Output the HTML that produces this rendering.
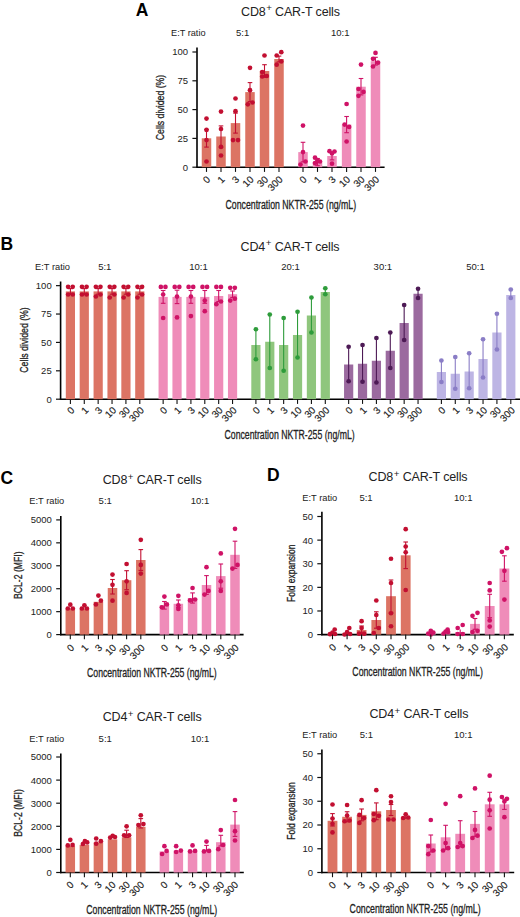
<!DOCTYPE html>
<html><head><meta charset="utf-8"><style>
html,body{margin:0;padding:0;background:#fff;}
svg{display:block;}
text{font-family:"Liberation Sans", sans-serif;fill:#222;}
text.cd{stroke:#222;stroke-width:0.3px;}
text.tl{stroke:#222;stroke-width:0.15px;}
</style></head><body>
<svg width="520" height="917" viewBox="0 0 520 917">
<rect width="520" height="917" fill="#fff"/>
<text x="135.8" y="15.9" font-size="17.5" font-weight="bold" style="fill:#000">A</text>
<text x="241.00" y="15.60" font-size="12.5" textLength="99" lengthAdjust="spacing">CD8<tspan font-size="9.75" dx="0.6" dy="-4.3">+</tspan><tspan dy="4.3"> CAR-T cells</tspan></text>
<text x="171.00" y="35.70" font-size="9.2" text-anchor="start" font-weight="normal" >E:T ratio</text>
<text x="236.00" y="35.60" font-size="9.5" text-anchor="start" font-weight="normal" >5:1</text>
<text x="331.00" y="35.60" font-size="9.5" text-anchor="start" font-weight="normal" >10:1</text>
<line x1="197" y1="47.5" x2="197" y2="167.95" stroke="#000" stroke-width="1.6"/>
<line x1="196.25" y1="167.2" x2="384.6" y2="167.2" stroke="#000" stroke-width="1.6"/>
<line x1="192.4" y1="167.2" x2="197" y2="167.2" stroke="#111" stroke-width="1.2"/>
<text x="188.10" y="170.65" font-size="9.5" text-anchor="end" font-weight="normal" >0</text>
<line x1="192.4" y1="138.39999999999998" x2="197" y2="138.39999999999998" stroke="#111" stroke-width="1.2"/>
<text x="188.10" y="141.85" font-size="9.5" text-anchor="end" font-weight="normal" >25</text>
<line x1="192.4" y1="109.6" x2="197" y2="109.6" stroke="#111" stroke-width="1.2"/>
<text x="188.10" y="113.05" font-size="9.5" text-anchor="end" font-weight="normal" >50</text>
<line x1="192.4" y1="80.8" x2="197" y2="80.8" stroke="#111" stroke-width="1.2"/>
<text x="188.10" y="84.25" font-size="9.5" text-anchor="end" font-weight="normal" >75</text>
<line x1="192.4" y1="52.0" x2="197" y2="52.0" stroke="#111" stroke-width="1.2"/>
<text x="188.10" y="55.45" font-size="9.5" text-anchor="end" font-weight="normal" >100</text>
<rect x="201.75" y="138.30" width="9.5" height="28.90" fill="#dc7464"/>
<rect x="216.25" y="136.50" width="9.5" height="30.70" fill="#dc7464"/>
<rect x="230.75" y="123.10" width="9.5" height="44.10" fill="#dc7464"/>
<rect x="245.25" y="92.10" width="9.5" height="75.10" fill="#dc7464"/>
<rect x="259.75" y="71.00" width="9.5" height="96.20" fill="#dc7464"/>
<rect x="274.25" y="59.00" width="9.5" height="108.20" fill="#dc7464"/>
<line x1="206.5" y1="129.5" x2="206.5" y2="147.10000000000002" stroke="#c20f31" stroke-width="1.1"/>
<line x1="204.2" y1="129.5" x2="208.8" y2="129.5" stroke="#c20f31" stroke-width="1.1"/>
<line x1="204.2" y1="147.10000000000002" x2="208.8" y2="147.10000000000002" stroke="#c20f31" stroke-width="1.1"/>
<circle cx="206.50" cy="118.60" r="2.35" fill="#c20f31"/>
<circle cx="206.50" cy="129.90" r="2.35" fill="#c20f31"/>
<circle cx="206.50" cy="140.10" r="2.35" fill="#c20f31"/>
<circle cx="206.50" cy="161.50" r="2.35" fill="#c20f31"/>
<line x1="221" y1="125.9" x2="221" y2="147.1" stroke="#c20f31" stroke-width="1.1"/>
<line x1="218.7" y1="125.9" x2="223.3" y2="125.9" stroke="#c20f31" stroke-width="1.1"/>
<line x1="218.7" y1="147.1" x2="223.3" y2="147.1" stroke="#c20f31" stroke-width="1.1"/>
<circle cx="221.00" cy="111.60" r="2.35" fill="#c20f31"/>
<circle cx="221.00" cy="129.00" r="2.35" fill="#c20f31"/>
<circle cx="221.00" cy="146.90" r="2.35" fill="#c20f31"/>
<circle cx="221.00" cy="155.50" r="2.35" fill="#c20f31"/>
<line x1="235.5" y1="113.1" x2="235.5" y2="133.1" stroke="#c20f31" stroke-width="1.1"/>
<line x1="233.2" y1="113.1" x2="237.8" y2="113.1" stroke="#c20f31" stroke-width="1.1"/>
<line x1="233.2" y1="133.1" x2="237.8" y2="133.1" stroke="#c20f31" stroke-width="1.1"/>
<circle cx="235.50" cy="98.50" r="2.35" fill="#c20f31"/>
<circle cx="235.50" cy="111.20" r="2.35" fill="#c20f31"/>
<circle cx="233.00" cy="140.10" r="2.35" fill="#c20f31"/>
<circle cx="238.00" cy="140.10" r="2.35" fill="#c20f31"/>
<line x1="250" y1="82.6" x2="250" y2="101.6" stroke="#c20f31" stroke-width="1.1"/>
<line x1="247.7" y1="82.6" x2="252.3" y2="82.6" stroke="#c20f31" stroke-width="1.1"/>
<line x1="247.7" y1="101.6" x2="252.3" y2="101.6" stroke="#c20f31" stroke-width="1.1"/>
<circle cx="250.00" cy="67.80" r="2.35" fill="#c20f31"/>
<circle cx="250.00" cy="90.20" r="2.35" fill="#c20f31"/>
<circle cx="247.80" cy="104.30" r="2.35" fill="#c20f31"/>
<circle cx="252.50" cy="102.50" r="2.35" fill="#c20f31"/>
<line x1="264.5" y1="64.7" x2="264.5" y2="77.3" stroke="#c20f31" stroke-width="1.1"/>
<line x1="262.2" y1="64.7" x2="266.8" y2="64.7" stroke="#c20f31" stroke-width="1.1"/>
<line x1="262.2" y1="77.3" x2="266.8" y2="77.3" stroke="#c20f31" stroke-width="1.1"/>
<circle cx="264.50" cy="55.50" r="2.35" fill="#c20f31"/>
<circle cx="262.20" cy="72.00" r="2.35" fill="#c20f31"/>
<circle cx="262.20" cy="76.50" r="2.35" fill="#c20f31"/>
<circle cx="266.80" cy="76.00" r="2.35" fill="#c20f31"/>
<line x1="279" y1="56.1" x2="279" y2="61.9" stroke="#c20f31" stroke-width="1.1"/>
<line x1="276.7" y1="56.1" x2="281.3" y2="56.1" stroke="#c20f31" stroke-width="1.1"/>
<line x1="276.7" y1="61.9" x2="281.3" y2="61.9" stroke="#c20f31" stroke-width="1.1"/>
<circle cx="276.70" cy="55.50" r="2.35" fill="#c20f31"/>
<circle cx="281.30" cy="52.20" r="2.35" fill="#c20f31"/>
<circle cx="276.70" cy="64.70" r="2.35" fill="#c20f31"/>
<circle cx="281.30" cy="61.40" r="2.35" fill="#c20f31"/>
<rect x="298.25" y="152.10" width="9.5" height="15.10" fill="#ef8cb9"/>
<rect x="312.75" y="162.10" width="9.5" height="5.10" fill="#ef8cb9"/>
<rect x="327.25" y="156.00" width="9.5" height="11.20" fill="#ef8cb9"/>
<rect x="341.85" y="124.60" width="9.5" height="42.60" fill="#ef8cb9"/>
<rect x="356.25" y="86.70" width="9.5" height="80.50" fill="#ef8cb9"/>
<rect x="370.75" y="61.20" width="9.5" height="106.00" fill="#ef8cb9"/>
<line x1="303" y1="142.3" x2="303" y2="161.89999999999998" stroke="#cf1266" stroke-width="1.1"/>
<line x1="300.7" y1="142.3" x2="305.3" y2="142.3" stroke="#cf1266" stroke-width="1.1"/>
<line x1="300.7" y1="161.89999999999998" x2="305.3" y2="161.89999999999998" stroke="#cf1266" stroke-width="1.1"/>
<circle cx="303.00" cy="125.60" r="2.35" fill="#cf1266"/>
<circle cx="303.00" cy="152.10" r="2.35" fill="#cf1266"/>
<circle cx="305.50" cy="161.50" r="2.35" fill="#cf1266"/>
<circle cx="300.50" cy="164.60" r="2.35" fill="#cf1266"/>
<line x1="317.5" y1="158.5" x2="317.5" y2="165.7" stroke="#cf1266" stroke-width="1.1"/>
<line x1="315.2" y1="158.5" x2="319.8" y2="158.5" stroke="#cf1266" stroke-width="1.1"/>
<line x1="315.2" y1="165.7" x2="319.8" y2="165.7" stroke="#cf1266" stroke-width="1.1"/>
<circle cx="315.00" cy="157.70" r="2.35" fill="#cf1266"/>
<circle cx="320.00" cy="161.50" r="2.35" fill="#cf1266"/>
<circle cx="315.00" cy="163.10" r="2.35" fill="#cf1266"/>
<circle cx="317.50" cy="160.20" r="2.35" fill="#cf1266"/>
<line x1="332" y1="152.1" x2="332" y2="159.9" stroke="#cf1266" stroke-width="1.1"/>
<line x1="329.7" y1="152.1" x2="334.3" y2="152.1" stroke="#cf1266" stroke-width="1.1"/>
<line x1="329.7" y1="159.9" x2="334.3" y2="159.9" stroke="#cf1266" stroke-width="1.1"/>
<circle cx="329.50" cy="151.20" r="2.35" fill="#cf1266"/>
<circle cx="334.50" cy="151.50" r="2.35" fill="#cf1266"/>
<circle cx="332.00" cy="153.50" r="2.35" fill="#cf1266"/>
<circle cx="332.00" cy="163.70" r="2.35" fill="#cf1266"/>
<line x1="346.6" y1="116.5" x2="346.6" y2="132.7" stroke="#cf1266" stroke-width="1.1"/>
<line x1="344.3" y1="116.5" x2="348.90000000000003" y2="116.5" stroke="#cf1266" stroke-width="1.1"/>
<line x1="344.3" y1="132.7" x2="348.90000000000003" y2="132.7" stroke="#cf1266" stroke-width="1.1"/>
<circle cx="346.60" cy="104.00" r="2.35" fill="#cf1266"/>
<circle cx="344.60" cy="124.60" r="2.35" fill="#cf1266"/>
<circle cx="349.10" cy="126.90" r="2.35" fill="#cf1266"/>
<circle cx="346.60" cy="141.50" r="2.35" fill="#cf1266"/>
<line x1="361" y1="78.5" x2="361" y2="94.9" stroke="#cf1266" stroke-width="1.1"/>
<line x1="358.7" y1="78.5" x2="363.3" y2="78.5" stroke="#cf1266" stroke-width="1.1"/>
<line x1="358.7" y1="94.9" x2="363.3" y2="94.9" stroke="#cf1266" stroke-width="1.1"/>
<circle cx="361.00" cy="64.60" r="2.35" fill="#cf1266"/>
<circle cx="358.50" cy="89.00" r="2.35" fill="#cf1266"/>
<circle cx="363.50" cy="91.90" r="2.35" fill="#cf1266"/>
<circle cx="358.50" cy="95.80" r="2.35" fill="#cf1266"/>
<line x1="375.5" y1="57.3" x2="375.5" y2="65.10000000000001" stroke="#cf1266" stroke-width="1.1"/>
<line x1="373.2" y1="57.3" x2="377.8" y2="57.3" stroke="#cf1266" stroke-width="1.1"/>
<line x1="373.2" y1="65.10000000000001" x2="377.8" y2="65.10000000000001" stroke="#cf1266" stroke-width="1.1"/>
<circle cx="375.50" cy="52.90" r="2.35" fill="#cf1266"/>
<circle cx="373.00" cy="58.80" r="2.35" fill="#cf1266"/>
<circle cx="378.00" cy="62.70" r="2.35" fill="#cf1266"/>
<circle cx="373.00" cy="66.50" r="2.35" fill="#cf1266"/>
<line x1="206.5" y1="167.2" x2="206.5" y2="171.89999999999998" stroke="#111" stroke-width="1.1"/>
<text class="tl" x="210.80" y="180.10" font-size="9.9" text-anchor="end" transform="rotate(-45 210.80 180.10)">0</text>
<line x1="221" y1="167.2" x2="221" y2="171.89999999999998" stroke="#111" stroke-width="1.1"/>
<text class="tl" x="225.30" y="180.10" font-size="9.9" text-anchor="end" transform="rotate(-45 225.30 180.10)">1</text>
<line x1="235.5" y1="167.2" x2="235.5" y2="171.89999999999998" stroke="#111" stroke-width="1.1"/>
<text class="tl" x="239.80" y="180.10" font-size="9.9" text-anchor="end" transform="rotate(-45 239.80 180.10)">3</text>
<line x1="250" y1="167.2" x2="250" y2="171.89999999999998" stroke="#111" stroke-width="1.1"/>
<text class="tl" x="254.30" y="180.10" font-size="9.9" text-anchor="end" transform="rotate(-45 254.30 180.10)">10</text>
<line x1="264.5" y1="167.2" x2="264.5" y2="171.89999999999998" stroke="#111" stroke-width="1.1"/>
<text class="tl" x="268.80" y="180.10" font-size="9.9" text-anchor="end" transform="rotate(-45 268.80 180.10)">30</text>
<line x1="279" y1="167.2" x2="279" y2="171.89999999999998" stroke="#111" stroke-width="1.1"/>
<text class="tl" x="283.30" y="180.10" font-size="9.9" text-anchor="end" transform="rotate(-45 283.30 180.10)">300</text>
<line x1="303" y1="167.2" x2="303" y2="171.89999999999998" stroke="#111" stroke-width="1.1"/>
<text class="tl" x="307.30" y="180.10" font-size="9.9" text-anchor="end" transform="rotate(-45 307.30 180.10)">0</text>
<line x1="317.5" y1="167.2" x2="317.5" y2="171.89999999999998" stroke="#111" stroke-width="1.1"/>
<text class="tl" x="321.80" y="180.10" font-size="9.9" text-anchor="end" transform="rotate(-45 321.80 180.10)">1</text>
<line x1="332" y1="167.2" x2="332" y2="171.89999999999998" stroke="#111" stroke-width="1.1"/>
<text class="tl" x="336.30" y="180.10" font-size="9.9" text-anchor="end" transform="rotate(-45 336.30 180.10)">3</text>
<line x1="346.6" y1="167.2" x2="346.6" y2="171.89999999999998" stroke="#111" stroke-width="1.1"/>
<text class="tl" x="350.90" y="180.10" font-size="9.9" text-anchor="end" transform="rotate(-45 350.90 180.10)">10</text>
<line x1="361" y1="167.2" x2="361" y2="171.89999999999998" stroke="#111" stroke-width="1.1"/>
<text class="tl" x="365.30" y="180.10" font-size="9.9" text-anchor="end" transform="rotate(-45 365.30 180.10)">30</text>
<line x1="375.5" y1="167.2" x2="375.5" y2="171.89999999999998" stroke="#111" stroke-width="1.1"/>
<text class="tl" x="379.80" y="180.10" font-size="9.9" text-anchor="end" transform="rotate(-45 379.80 180.10)">300</text>
<text class="cd" x="0" y="0" font-size="11.6" text-anchor="middle" textLength="65.4" lengthAdjust="spacingAndGlyphs" transform="translate(163.80 107.50) rotate(-90)">Cells divided (%)</text>
<text class="cd" x="290.80" y="208.60" font-size="12.5" text-anchor="middle" textLength="130.5" lengthAdjust="spacingAndGlyphs">Concentration NKTR-255 (ng/mL)</text>
<text x="0.6" y="249.9" font-size="17.5" font-weight="bold" style="fill:#000">B</text>
<text x="240.60" y="250.60" font-size="12.5" textLength="99" lengthAdjust="spacing">CD4<tspan font-size="9.75" dx="0.6" dy="-4.3">+</tspan><tspan dy="4.3"> CAR-T cells</tspan></text>
<text x="35.00" y="270.40" font-size="9.3" text-anchor="start" font-weight="normal" >E:T ratio</text>
<text x="98.20" y="270.40" font-size="9.5" text-anchor="start" font-weight="normal" >5:1</text>
<text x="189.20" y="270.40" font-size="9.5" text-anchor="start" font-weight="normal" >10:1</text>
<text x="281.20" y="270.40" font-size="9.5" text-anchor="start" font-weight="normal" >20:1</text>
<text x="373.60" y="270.40" font-size="9.5" text-anchor="start" font-weight="normal" >30:1</text>
<text x="466.20" y="270.40" font-size="9.5" text-anchor="start" font-weight="normal" >50:1</text>
<line x1="60.6" y1="281.5" x2="60.6" y2="399.95" stroke="#000" stroke-width="1.6"/>
<line x1="59.85" y1="399.2" x2="520.5" y2="399.2" stroke="#000" stroke-width="1.6"/>
<line x1="56.0" y1="399.2" x2="60.6" y2="399.2" stroke="#111" stroke-width="1.2"/>
<text x="51.70" y="402.65" font-size="9.5" text-anchor="end" font-weight="normal" >0</text>
<line x1="56.0" y1="370.8125" x2="60.6" y2="370.8125" stroke="#111" stroke-width="1.2"/>
<text x="51.70" y="374.26" font-size="9.5" text-anchor="end" font-weight="normal" >25</text>
<line x1="56.0" y1="342.425" x2="60.6" y2="342.425" stroke="#111" stroke-width="1.2"/>
<text x="51.70" y="345.88" font-size="9.5" text-anchor="end" font-weight="normal" >50</text>
<line x1="56.0" y1="314.0375" x2="60.6" y2="314.0375" stroke="#111" stroke-width="1.2"/>
<text x="51.70" y="317.49" font-size="9.5" text-anchor="end" font-weight="normal" >75</text>
<line x1="56.0" y1="285.65" x2="60.6" y2="285.65" stroke="#111" stroke-width="1.2"/>
<text x="51.70" y="289.10" font-size="9.5" text-anchor="end" font-weight="normal" >100</text>
<rect x="65.80" y="291.40" width="9.2" height="107.80" fill="#dc7464"/>
<rect x="79.68" y="291.40" width="9.2" height="107.80" fill="#dc7464"/>
<rect x="93.56" y="291.40" width="9.2" height="107.80" fill="#dc7464"/>
<rect x="107.44" y="291.40" width="9.2" height="107.80" fill="#dc7464"/>
<rect x="121.32" y="291.40" width="9.2" height="107.80" fill="#dc7464"/>
<rect x="135.20" y="291.40" width="9.2" height="107.80" fill="#dc7464"/>
<line x1="70.4" y1="288.6" x2="70.4" y2="294.19999999999993" stroke="#c20f31" stroke-width="1.1"/>
<line x1="68.10000000000001" y1="288.6" x2="72.7" y2="288.6" stroke="#c20f31" stroke-width="1.1"/>
<line x1="68.10000000000001" y1="294.19999999999993" x2="72.7" y2="294.19999999999993" stroke="#c20f31" stroke-width="1.1"/>
<circle cx="68.10" cy="286.80" r="2.35" fill="#c20f31"/>
<circle cx="72.70" cy="286.80" r="2.35" fill="#c20f31"/>
<circle cx="68.10" cy="294.50" r="2.35" fill="#c20f31"/>
<circle cx="72.70" cy="294.50" r="2.35" fill="#c20f31"/>
<line x1="84.28" y1="288.6" x2="84.28" y2="294.19999999999993" stroke="#c20f31" stroke-width="1.1"/>
<line x1="81.98" y1="288.6" x2="86.58" y2="288.6" stroke="#c20f31" stroke-width="1.1"/>
<line x1="81.98" y1="294.19999999999993" x2="86.58" y2="294.19999999999993" stroke="#c20f31" stroke-width="1.1"/>
<circle cx="81.98" cy="286.80" r="2.35" fill="#c20f31"/>
<circle cx="86.58" cy="286.80" r="2.35" fill="#c20f31"/>
<circle cx="81.98" cy="294.50" r="2.35" fill="#c20f31"/>
<circle cx="86.58" cy="294.50" r="2.35" fill="#c20f31"/>
<line x1="98.16000000000001" y1="288.6" x2="98.16000000000001" y2="294.19999999999993" stroke="#c20f31" stroke-width="1.1"/>
<line x1="95.86000000000001" y1="288.6" x2="100.46000000000001" y2="288.6" stroke="#c20f31" stroke-width="1.1"/>
<line x1="95.86000000000001" y1="294.19999999999993" x2="100.46000000000001" y2="294.19999999999993" stroke="#c20f31" stroke-width="1.1"/>
<circle cx="95.86" cy="286.80" r="2.35" fill="#c20f31"/>
<circle cx="100.46" cy="286.80" r="2.35" fill="#c20f31"/>
<circle cx="95.86" cy="296.50" r="2.35" fill="#c20f31"/>
<circle cx="100.46" cy="294.50" r="2.35" fill="#c20f31"/>
<line x1="112.04" y1="288.6" x2="112.04" y2="294.19999999999993" stroke="#c20f31" stroke-width="1.1"/>
<line x1="109.74000000000001" y1="288.6" x2="114.34" y2="288.6" stroke="#c20f31" stroke-width="1.1"/>
<line x1="109.74000000000001" y1="294.19999999999993" x2="114.34" y2="294.19999999999993" stroke="#c20f31" stroke-width="1.1"/>
<circle cx="109.74" cy="286.80" r="2.35" fill="#c20f31"/>
<circle cx="114.34" cy="286.80" r="2.35" fill="#c20f31"/>
<circle cx="109.74" cy="297.50" r="2.35" fill="#c20f31"/>
<circle cx="114.34" cy="294.50" r="2.35" fill="#c20f31"/>
<line x1="125.92000000000002" y1="288.6" x2="125.92000000000002" y2="294.19999999999993" stroke="#c20f31" stroke-width="1.1"/>
<line x1="123.62000000000002" y1="288.6" x2="128.22000000000003" y2="288.6" stroke="#c20f31" stroke-width="1.1"/>
<line x1="123.62000000000002" y1="294.19999999999993" x2="128.22000000000003" y2="294.19999999999993" stroke="#c20f31" stroke-width="1.1"/>
<circle cx="123.62" cy="286.80" r="2.35" fill="#c20f31"/>
<circle cx="128.22" cy="286.80" r="2.35" fill="#c20f31"/>
<circle cx="123.62" cy="297.50" r="2.35" fill="#c20f31"/>
<circle cx="128.22" cy="294.50" r="2.35" fill="#c20f31"/>
<line x1="139.8" y1="288.6" x2="139.8" y2="294.19999999999993" stroke="#c20f31" stroke-width="1.1"/>
<line x1="137.5" y1="288.6" x2="142.10000000000002" y2="288.6" stroke="#c20f31" stroke-width="1.1"/>
<line x1="137.5" y1="294.19999999999993" x2="142.10000000000002" y2="294.19999999999993" stroke="#c20f31" stroke-width="1.1"/>
<circle cx="137.50" cy="286.80" r="2.35" fill="#c20f31"/>
<circle cx="142.10" cy="286.80" r="2.35" fill="#c20f31"/>
<circle cx="137.50" cy="297.50" r="2.35" fill="#c20f31"/>
<circle cx="142.10" cy="294.50" r="2.35" fill="#c20f31"/>
<rect x="158.55" y="296.90" width="9.2" height="102.30" fill="#ef8cb9"/>
<rect x="172.43" y="296.90" width="9.2" height="102.30" fill="#ef8cb9"/>
<rect x="186.31" y="296.90" width="9.2" height="102.30" fill="#ef8cb9"/>
<rect x="200.19" y="296.90" width="9.2" height="102.30" fill="#ef8cb9"/>
<rect x="214.07" y="296.00" width="9.2" height="103.20" fill="#ef8cb9"/>
<rect x="227.95" y="294.20" width="9.2" height="105.00" fill="#ef8cb9"/>
<line x1="163.15" y1="290.5" x2="163.15" y2="303.29999999999995" stroke="#cf1266" stroke-width="1.1"/>
<line x1="160.85" y1="290.5" x2="165.45000000000002" y2="290.5" stroke="#cf1266" stroke-width="1.1"/>
<line x1="160.85" y1="303.29999999999995" x2="165.45000000000002" y2="303.29999999999995" stroke="#cf1266" stroke-width="1.1"/>
<circle cx="160.85" cy="286.90" r="2.35" fill="#cf1266"/>
<circle cx="165.45" cy="286.90" r="2.35" fill="#cf1266"/>
<circle cx="163.15" cy="294.50" r="2.35" fill="#cf1266"/>
<circle cx="163.15" cy="318.00" r="2.35" fill="#cf1266"/>
<line x1="177.03" y1="290.2" x2="177.03" y2="303.59999999999997" stroke="#cf1266" stroke-width="1.1"/>
<line x1="174.73" y1="290.2" x2="179.33" y2="290.2" stroke="#cf1266" stroke-width="1.1"/>
<line x1="174.73" y1="303.59999999999997" x2="179.33" y2="303.59999999999997" stroke="#cf1266" stroke-width="1.1"/>
<circle cx="174.73" cy="286.90" r="2.35" fill="#cf1266"/>
<circle cx="179.33" cy="286.90" r="2.35" fill="#cf1266"/>
<circle cx="177.03" cy="296.60" r="2.35" fill="#cf1266"/>
<circle cx="177.03" cy="317.40" r="2.35" fill="#cf1266"/>
<line x1="190.91" y1="290.5" x2="190.91" y2="303.29999999999995" stroke="#cf1266" stroke-width="1.1"/>
<line x1="188.60999999999999" y1="290.5" x2="193.21" y2="290.5" stroke="#cf1266" stroke-width="1.1"/>
<line x1="188.60999999999999" y1="303.29999999999995" x2="193.21" y2="303.29999999999995" stroke="#cf1266" stroke-width="1.1"/>
<circle cx="188.61" cy="286.90" r="2.35" fill="#cf1266"/>
<circle cx="193.21" cy="286.90" r="2.35" fill="#cf1266"/>
<circle cx="190.91" cy="296.60" r="2.35" fill="#cf1266"/>
<circle cx="190.91" cy="316.10" r="2.35" fill="#cf1266"/>
<line x1="204.79000000000002" y1="290.5" x2="204.79000000000002" y2="303.29999999999995" stroke="#cf1266" stroke-width="1.1"/>
<line x1="202.49" y1="290.5" x2="207.09000000000003" y2="290.5" stroke="#cf1266" stroke-width="1.1"/>
<line x1="202.49" y1="303.29999999999995" x2="207.09000000000003" y2="303.29999999999995" stroke="#cf1266" stroke-width="1.1"/>
<circle cx="202.49" cy="286.90" r="2.35" fill="#cf1266"/>
<circle cx="207.09" cy="286.90" r="2.35" fill="#cf1266"/>
<circle cx="204.79" cy="300.60" r="2.35" fill="#cf1266"/>
<circle cx="204.79" cy="311.20" r="2.35" fill="#cf1266"/>
<line x1="218.67000000000002" y1="290.5" x2="218.67000000000002" y2="301.5" stroke="#cf1266" stroke-width="1.1"/>
<line x1="216.37" y1="290.5" x2="220.97000000000003" y2="290.5" stroke="#cf1266" stroke-width="1.1"/>
<line x1="216.37" y1="301.5" x2="220.97000000000003" y2="301.5" stroke="#cf1266" stroke-width="1.1"/>
<circle cx="216.37" cy="286.90" r="2.35" fill="#cf1266"/>
<circle cx="220.97" cy="286.90" r="2.35" fill="#cf1266"/>
<circle cx="220.97" cy="301.50" r="2.35" fill="#cf1266"/>
<circle cx="216.37" cy="304.20" r="2.35" fill="#cf1266"/>
<line x1="232.55" y1="291.0" x2="232.55" y2="297.4" stroke="#cf1266" stroke-width="1.1"/>
<line x1="230.25" y1="291.0" x2="234.85000000000002" y2="291.0" stroke="#cf1266" stroke-width="1.1"/>
<line x1="230.25" y1="297.4" x2="234.85000000000002" y2="297.4" stroke="#cf1266" stroke-width="1.1"/>
<circle cx="230.25" cy="287.80" r="2.35" fill="#cf1266"/>
<circle cx="234.85" cy="287.80" r="2.35" fill="#cf1266"/>
<circle cx="234.85" cy="298.70" r="2.35" fill="#cf1266"/>
<circle cx="230.25" cy="300.60" r="2.35" fill="#cf1266"/>
<rect x="251.30" y="345.00" width="9.2" height="54.20" fill="#8fc67d"/>
<rect x="265.18" y="341.75" width="9.2" height="57.45" fill="#8fc67d"/>
<rect x="279.06" y="345.00" width="9.2" height="54.20" fill="#8fc67d"/>
<rect x="292.94" y="335.00" width="9.2" height="64.20" fill="#8fc67d"/>
<rect x="306.82" y="315.50" width="9.2" height="83.70" fill="#8fc67d"/>
<rect x="320.70" y="292.00" width="9.2" height="107.20" fill="#8fc67d"/>
<line x1="255.9" y1="329.25" x2="255.9" y2="359.25" stroke="#2e9c3b" stroke-width="1.1"/>
<circle cx="255.90" cy="329.25" r="2.35" fill="#2e9c3b"/>
<circle cx="255.90" cy="359.25" r="2.35" fill="#2e9c3b"/>
<line x1="269.78000000000003" y1="314.5" x2="269.78000000000003" y2="368" stroke="#2e9c3b" stroke-width="1.1"/>
<circle cx="269.78" cy="314.50" r="2.35" fill="#2e9c3b"/>
<circle cx="269.78" cy="368.00" r="2.35" fill="#2e9c3b"/>
<line x1="283.66" y1="318" x2="283.66" y2="370.75" stroke="#2e9c3b" stroke-width="1.1"/>
<circle cx="283.66" cy="318.00" r="2.35" fill="#2e9c3b"/>
<circle cx="283.66" cy="370.75" r="2.35" fill="#2e9c3b"/>
<line x1="297.54" y1="311.75" x2="297.54" y2="357.5" stroke="#2e9c3b" stroke-width="1.1"/>
<circle cx="297.54" cy="311.75" r="2.35" fill="#2e9c3b"/>
<circle cx="297.54" cy="357.50" r="2.35" fill="#2e9c3b"/>
<line x1="311.42" y1="297.5" x2="311.42" y2="332.5" stroke="#2e9c3b" stroke-width="1.1"/>
<circle cx="311.42" cy="297.50" r="2.35" fill="#2e9c3b"/>
<circle cx="311.42" cy="332.50" r="2.35" fill="#2e9c3b"/>
<line x1="325.3" y1="288.25" x2="325.3" y2="294.25" stroke="#2e9c3b" stroke-width="1.1"/>
<circle cx="325.30" cy="288.25" r="2.35" fill="#2e9c3b"/>
<circle cx="325.30" cy="294.25" r="2.35" fill="#2e9c3b"/>
<rect x="344.05" y="364.50" width="9.2" height="34.70" fill="#9b6a9f"/>
<rect x="357.93" y="363.75" width="9.2" height="35.45" fill="#9b6a9f"/>
<rect x="371.81" y="360.75" width="9.2" height="38.45" fill="#9b6a9f"/>
<rect x="385.69" y="350.75" width="9.2" height="48.45" fill="#9b6a9f"/>
<rect x="399.57" y="323.00" width="9.2" height="76.20" fill="#9b6a9f"/>
<rect x="413.45" y="293.75" width="9.2" height="105.45" fill="#9b6a9f"/>
<line x1="348.65" y1="346.75" x2="348.65" y2="381.25" stroke="#4d1a55" stroke-width="1.1"/>
<circle cx="348.65" cy="346.75" r="2.35" fill="#4d1a55"/>
<circle cx="348.65" cy="381.25" r="2.35" fill="#4d1a55"/>
<line x1="362.53" y1="345" x2="362.53" y2="381.75" stroke="#4d1a55" stroke-width="1.1"/>
<circle cx="362.53" cy="345.00" r="2.35" fill="#4d1a55"/>
<circle cx="362.53" cy="381.75" r="2.35" fill="#4d1a55"/>
<line x1="376.40999999999997" y1="338" x2="376.40999999999997" y2="382.5" stroke="#4d1a55" stroke-width="1.1"/>
<circle cx="376.41" cy="338.00" r="2.35" fill="#4d1a55"/>
<circle cx="376.41" cy="382.50" r="2.35" fill="#4d1a55"/>
<line x1="390.28999999999996" y1="332.5" x2="390.28999999999996" y2="368" stroke="#4d1a55" stroke-width="1.1"/>
<circle cx="390.29" cy="332.50" r="2.35" fill="#4d1a55"/>
<circle cx="390.29" cy="368.00" r="2.35" fill="#4d1a55"/>
<line x1="404.16999999999996" y1="305" x2="404.16999999999996" y2="340" stroke="#4d1a55" stroke-width="1.1"/>
<circle cx="404.17" cy="305.00" r="2.35" fill="#4d1a55"/>
<circle cx="404.17" cy="340.00" r="2.35" fill="#4d1a55"/>
<line x1="418.04999999999995" y1="288.75" x2="418.04999999999995" y2="298" stroke="#4d1a55" stroke-width="1.1"/>
<circle cx="418.05" cy="288.75" r="2.35" fill="#4d1a55"/>
<circle cx="418.05" cy="298.00" r="2.35" fill="#4d1a55"/>
<rect x="436.80" y="372.00" width="9.2" height="27.20" fill="#bdb5e4"/>
<rect x="450.68" y="373.75" width="9.2" height="25.45" fill="#bdb5e4"/>
<rect x="464.56" y="371.50" width="9.2" height="27.70" fill="#bdb5e4"/>
<rect x="478.44" y="359.00" width="9.2" height="40.20" fill="#bdb5e4"/>
<rect x="492.32" y="332.50" width="9.2" height="66.70" fill="#bdb5e4"/>
<rect x="506.20" y="295.00" width="9.2" height="104.20" fill="#bdb5e4"/>
<line x1="441.4" y1="360.5" x2="441.4" y2="382" stroke="#8a7dc6" stroke-width="1.1"/>
<circle cx="441.40" cy="360.50" r="2.35" fill="#8a7dc6"/>
<circle cx="441.40" cy="382.00" r="2.35" fill="#8a7dc6"/>
<line x1="455.28" y1="357" x2="455.28" y2="388.75" stroke="#8a7dc6" stroke-width="1.1"/>
<circle cx="455.28" cy="357.00" r="2.35" fill="#8a7dc6"/>
<circle cx="455.28" cy="388.75" r="2.35" fill="#8a7dc6"/>
<line x1="469.15999999999997" y1="353.25" x2="469.15999999999997" y2="388.25" stroke="#8a7dc6" stroke-width="1.1"/>
<circle cx="469.16" cy="353.25" r="2.35" fill="#8a7dc6"/>
<circle cx="469.16" cy="388.25" r="2.35" fill="#8a7dc6"/>
<line x1="483.03999999999996" y1="339.25" x2="483.03999999999996" y2="377.5" stroke="#8a7dc6" stroke-width="1.1"/>
<circle cx="483.04" cy="339.25" r="2.35" fill="#8a7dc6"/>
<circle cx="483.04" cy="377.50" r="2.35" fill="#8a7dc6"/>
<line x1="496.91999999999996" y1="313.75" x2="496.91999999999996" y2="349.5" stroke="#8a7dc6" stroke-width="1.1"/>
<circle cx="496.92" cy="313.75" r="2.35" fill="#8a7dc6"/>
<circle cx="496.92" cy="349.50" r="2.35" fill="#8a7dc6"/>
<line x1="510.79999999999995" y1="289.5" x2="510.79999999999995" y2="298" stroke="#8a7dc6" stroke-width="1.1"/>
<circle cx="510.80" cy="289.50" r="2.35" fill="#8a7dc6"/>
<circle cx="510.80" cy="298.00" r="2.35" fill="#8a7dc6"/>
<line x1="70.4" y1="399.2" x2="70.4" y2="403.9" stroke="#111" stroke-width="1.1"/>
<text class="tl" x="75.20" y="410.80" font-size="9.9" text-anchor="end" transform="rotate(-45 75.20 410.80)">0</text>
<line x1="84.28" y1="399.2" x2="84.28" y2="403.9" stroke="#111" stroke-width="1.1"/>
<text class="tl" x="89.08" y="410.80" font-size="9.9" text-anchor="end" transform="rotate(-45 89.08 410.80)">1</text>
<line x1="98.16000000000001" y1="399.2" x2="98.16000000000001" y2="403.9" stroke="#111" stroke-width="1.1"/>
<text class="tl" x="102.96" y="410.80" font-size="9.9" text-anchor="end" transform="rotate(-45 102.96 410.80)">3</text>
<line x1="112.04" y1="399.2" x2="112.04" y2="403.9" stroke="#111" stroke-width="1.1"/>
<text class="tl" x="116.84" y="410.80" font-size="9.9" text-anchor="end" transform="rotate(-45 116.84 410.80)">10</text>
<line x1="125.92000000000002" y1="399.2" x2="125.92000000000002" y2="403.9" stroke="#111" stroke-width="1.1"/>
<text class="tl" x="130.72" y="410.80" font-size="9.9" text-anchor="end" transform="rotate(-45 130.72 410.80)">30</text>
<line x1="139.8" y1="399.2" x2="139.8" y2="403.9" stroke="#111" stroke-width="1.1"/>
<text class="tl" x="144.60" y="410.80" font-size="9.9" text-anchor="end" transform="rotate(-45 144.60 410.80)">300</text>
<line x1="163.15" y1="399.2" x2="163.15" y2="403.9" stroke="#111" stroke-width="1.1"/>
<text class="tl" x="167.95" y="410.80" font-size="9.9" text-anchor="end" transform="rotate(-45 167.95 410.80)">0</text>
<line x1="177.03" y1="399.2" x2="177.03" y2="403.9" stroke="#111" stroke-width="1.1"/>
<text class="tl" x="181.83" y="410.80" font-size="9.9" text-anchor="end" transform="rotate(-45 181.83 410.80)">1</text>
<line x1="190.91" y1="399.2" x2="190.91" y2="403.9" stroke="#111" stroke-width="1.1"/>
<text class="tl" x="195.71" y="410.80" font-size="9.9" text-anchor="end" transform="rotate(-45 195.71 410.80)">3</text>
<line x1="204.79000000000002" y1="399.2" x2="204.79000000000002" y2="403.9" stroke="#111" stroke-width="1.1"/>
<text class="tl" x="209.59" y="410.80" font-size="9.9" text-anchor="end" transform="rotate(-45 209.59 410.80)">10</text>
<line x1="218.67000000000002" y1="399.2" x2="218.67000000000002" y2="403.9" stroke="#111" stroke-width="1.1"/>
<text class="tl" x="223.47" y="410.80" font-size="9.9" text-anchor="end" transform="rotate(-45 223.47 410.80)">30</text>
<line x1="232.55" y1="399.2" x2="232.55" y2="403.9" stroke="#111" stroke-width="1.1"/>
<text class="tl" x="237.35" y="410.80" font-size="9.9" text-anchor="end" transform="rotate(-45 237.35 410.80)">300</text>
<line x1="255.9" y1="399.2" x2="255.9" y2="403.9" stroke="#111" stroke-width="1.1"/>
<text class="tl" x="260.70" y="410.80" font-size="9.9" text-anchor="end" transform="rotate(-45 260.70 410.80)">0</text>
<line x1="269.78000000000003" y1="399.2" x2="269.78000000000003" y2="403.9" stroke="#111" stroke-width="1.1"/>
<text class="tl" x="274.58" y="410.80" font-size="9.9" text-anchor="end" transform="rotate(-45 274.58 410.80)">1</text>
<line x1="283.66" y1="399.2" x2="283.66" y2="403.9" stroke="#111" stroke-width="1.1"/>
<text class="tl" x="288.46" y="410.80" font-size="9.9" text-anchor="end" transform="rotate(-45 288.46 410.80)">3</text>
<line x1="297.54" y1="399.2" x2="297.54" y2="403.9" stroke="#111" stroke-width="1.1"/>
<text class="tl" x="302.34" y="410.80" font-size="9.9" text-anchor="end" transform="rotate(-45 302.34 410.80)">10</text>
<line x1="311.42" y1="399.2" x2="311.42" y2="403.9" stroke="#111" stroke-width="1.1"/>
<text class="tl" x="316.22" y="410.80" font-size="9.9" text-anchor="end" transform="rotate(-45 316.22 410.80)">30</text>
<line x1="325.3" y1="399.2" x2="325.3" y2="403.9" stroke="#111" stroke-width="1.1"/>
<text class="tl" x="330.10" y="410.80" font-size="9.9" text-anchor="end" transform="rotate(-45 330.10 410.80)">300</text>
<line x1="348.65" y1="399.2" x2="348.65" y2="403.9" stroke="#111" stroke-width="1.1"/>
<text class="tl" x="353.45" y="410.80" font-size="9.9" text-anchor="end" transform="rotate(-45 353.45 410.80)">0</text>
<line x1="362.53" y1="399.2" x2="362.53" y2="403.9" stroke="#111" stroke-width="1.1"/>
<text class="tl" x="367.33" y="410.80" font-size="9.9" text-anchor="end" transform="rotate(-45 367.33 410.80)">1</text>
<line x1="376.40999999999997" y1="399.2" x2="376.40999999999997" y2="403.9" stroke="#111" stroke-width="1.1"/>
<text class="tl" x="381.21" y="410.80" font-size="9.9" text-anchor="end" transform="rotate(-45 381.21 410.80)">3</text>
<line x1="390.28999999999996" y1="399.2" x2="390.28999999999996" y2="403.9" stroke="#111" stroke-width="1.1"/>
<text class="tl" x="395.09" y="410.80" font-size="9.9" text-anchor="end" transform="rotate(-45 395.09 410.80)">10</text>
<line x1="404.16999999999996" y1="399.2" x2="404.16999999999996" y2="403.9" stroke="#111" stroke-width="1.1"/>
<text class="tl" x="408.97" y="410.80" font-size="9.9" text-anchor="end" transform="rotate(-45 408.97 410.80)">30</text>
<line x1="418.04999999999995" y1="399.2" x2="418.04999999999995" y2="403.9" stroke="#111" stroke-width="1.1"/>
<text class="tl" x="422.85" y="410.80" font-size="9.9" text-anchor="end" transform="rotate(-45 422.85 410.80)">300</text>
<line x1="441.4" y1="399.2" x2="441.4" y2="403.9" stroke="#111" stroke-width="1.1"/>
<text class="tl" x="446.20" y="410.80" font-size="9.9" text-anchor="end" transform="rotate(-45 446.20 410.80)">0</text>
<line x1="455.28" y1="399.2" x2="455.28" y2="403.9" stroke="#111" stroke-width="1.1"/>
<text class="tl" x="460.08" y="410.80" font-size="9.9" text-anchor="end" transform="rotate(-45 460.08 410.80)">1</text>
<line x1="469.15999999999997" y1="399.2" x2="469.15999999999997" y2="403.9" stroke="#111" stroke-width="1.1"/>
<text class="tl" x="473.96" y="410.80" font-size="9.9" text-anchor="end" transform="rotate(-45 473.96 410.80)">3</text>
<line x1="483.03999999999996" y1="399.2" x2="483.03999999999996" y2="403.9" stroke="#111" stroke-width="1.1"/>
<text class="tl" x="487.84" y="410.80" font-size="9.9" text-anchor="end" transform="rotate(-45 487.84 410.80)">10</text>
<line x1="496.91999999999996" y1="399.2" x2="496.91999999999996" y2="403.9" stroke="#111" stroke-width="1.1"/>
<text class="tl" x="501.72" y="410.80" font-size="9.9" text-anchor="end" transform="rotate(-45 501.72 410.80)">30</text>
<line x1="510.79999999999995" y1="399.2" x2="510.79999999999995" y2="403.9" stroke="#111" stroke-width="1.1"/>
<text class="tl" x="515.60" y="410.80" font-size="9.9" text-anchor="end" transform="rotate(-45 515.60 410.80)">300</text>
<text class="cd" x="0" y="0" font-size="11.6" text-anchor="middle" textLength="65.4" lengthAdjust="spacingAndGlyphs" transform="translate(28.40 340.00) rotate(-90)">Cells divided (%)</text>
<text class="cd" x="289.60" y="439.20" font-size="12.5" text-anchor="middle" textLength="130.2" lengthAdjust="spacingAndGlyphs">Concentration NKTR-255 (ng/mL)</text>
<text x="0.6" y="484.1" font-size="17.5" font-weight="bold" style="fill:#000">C</text>
<text x="102.70" y="484.20" font-size="12.5" textLength="99" lengthAdjust="spacing">CD8<tspan font-size="9.75" dx="0.6" dy="-4.3">+</tspan><tspan dy="4.3"> CAR-T cells</tspan></text>
<text x="29.30" y="503.90" font-size="9.3" text-anchor="start" font-weight="normal" >E:T ratio</text>
<text x="98.60" y="503.90" font-size="9.5" text-anchor="start" font-weight="normal" >5:1</text>
<text x="190.80" y="503.90" font-size="9.5" text-anchor="start" font-weight="normal" >10:1</text>
<line x1="60.8" y1="516.0" x2="60.8" y2="635.35" stroke="#000" stroke-width="1.6"/>
<line x1="60.05" y1="634.6" x2="243.6" y2="634.6" stroke="#000" stroke-width="1.6"/>
<line x1="56.199999999999996" y1="634.6" x2="60.8" y2="634.6" stroke="#111" stroke-width="1.2"/>
<text x="51.90" y="638.05" font-size="9.5" text-anchor="end" font-weight="normal" >0</text>
<line x1="56.199999999999996" y1="611.6600000000001" x2="60.8" y2="611.6600000000001" stroke="#111" stroke-width="1.2"/>
<text x="51.90" y="615.11" font-size="9.5" text-anchor="end" font-weight="normal" >1000</text>
<line x1="56.199999999999996" y1="588.72" x2="60.8" y2="588.72" stroke="#111" stroke-width="1.2"/>
<text x="51.90" y="592.17" font-size="9.5" text-anchor="end" font-weight="normal" >2000</text>
<line x1="56.199999999999996" y1="565.78" x2="60.8" y2="565.78" stroke="#111" stroke-width="1.2"/>
<text x="51.90" y="569.23" font-size="9.5" text-anchor="end" font-weight="normal" >3000</text>
<line x1="56.199999999999996" y1="542.84" x2="60.8" y2="542.84" stroke="#111" stroke-width="1.2"/>
<text x="51.90" y="546.29" font-size="9.5" text-anchor="end" font-weight="normal" >4000</text>
<line x1="56.199999999999996" y1="519.9000000000001" x2="60.8" y2="519.9000000000001" stroke="#111" stroke-width="1.2"/>
<text x="51.90" y="523.35" font-size="9.5" text-anchor="end" font-weight="normal" >5000</text>
<rect x="65.55" y="609.00" width="9.5" height="25.60" fill="#dc7464"/>
<rect x="79.65" y="609.00" width="9.5" height="25.60" fill="#dc7464"/>
<rect x="93.65" y="601.80" width="9.5" height="32.80" fill="#dc7464"/>
<rect x="107.75" y="588.00" width="9.5" height="46.60" fill="#dc7464"/>
<rect x="121.85" y="580.20" width="9.5" height="54.40" fill="#dc7464"/>
<rect x="136.05" y="560.00" width="9.5" height="74.60" fill="#dc7464"/>
<circle cx="67.80" cy="608.50" r="2.35" fill="#c20f31"/>
<circle cx="70.30" cy="604.70" r="2.35" fill="#c20f31"/>
<circle cx="72.80" cy="608.50" r="2.35" fill="#c20f31"/>
<circle cx="84.40" cy="605.30" r="2.35" fill="#c20f31"/>
<circle cx="81.90" cy="608.50" r="2.35" fill="#c20f31"/>
<circle cx="86.90" cy="608.50" r="2.35" fill="#c20f31"/>
<circle cx="98.40" cy="595.60" r="2.35" fill="#c20f31"/>
<circle cx="100.90" cy="600.70" r="2.35" fill="#c20f31"/>
<circle cx="95.90" cy="604.40" r="2.35" fill="#c20f31"/>
<line x1="112.5" y1="579.5" x2="112.5" y2="594.0" stroke="#c20f31" stroke-width="1.1"/>
<line x1="110.2" y1="579.5" x2="114.8" y2="579.5" stroke="#c20f31" stroke-width="1.1"/>
<line x1="110.2" y1="594.0" x2="114.8" y2="594.0" stroke="#c20f31" stroke-width="1.1"/>
<circle cx="112.50" cy="574.60" r="2.35" fill="#c20f31"/>
<circle cx="112.50" cy="584.80" r="2.35" fill="#c20f31"/>
<circle cx="112.50" cy="600.70" r="2.35" fill="#c20f31"/>
<line x1="126.6" y1="570.7" x2="126.6" y2="589.7" stroke="#c20f31" stroke-width="1.1"/>
<line x1="124.3" y1="570.7" x2="128.9" y2="570.7" stroke="#c20f31" stroke-width="1.1"/>
<line x1="124.3" y1="589.7" x2="128.9" y2="589.7" stroke="#c20f31" stroke-width="1.1"/>
<circle cx="126.60" cy="564.00" r="2.35" fill="#c20f31"/>
<circle cx="126.60" cy="581.30" r="2.35" fill="#c20f31"/>
<circle cx="126.60" cy="592.90" r="2.35" fill="#c20f31"/>
<line x1="140.8" y1="549.6" x2="140.8" y2="570.4" stroke="#c20f31" stroke-width="1.1"/>
<line x1="138.5" y1="549.6" x2="143.10000000000002" y2="549.6" stroke="#c20f31" stroke-width="1.1"/>
<line x1="138.5" y1="570.4" x2="143.10000000000002" y2="570.4" stroke="#c20f31" stroke-width="1.1"/>
<circle cx="140.80" cy="539.80" r="2.35" fill="#c20f31"/>
<circle cx="140.80" cy="564.90" r="2.35" fill="#c20f31"/>
<circle cx="140.80" cy="573.60" r="2.35" fill="#c20f31"/>
<rect x="159.65" y="605.30" width="9.5" height="29.30" fill="#ef8cb9"/>
<rect x="173.60" y="603.80" width="9.5" height="30.80" fill="#ef8cb9"/>
<rect x="187.80" y="598.00" width="9.5" height="36.60" fill="#ef8cb9"/>
<rect x="201.75" y="585.00" width="9.5" height="49.60" fill="#ef8cb9"/>
<rect x="216.05" y="576.10" width="9.5" height="58.50" fill="#ef8cb9"/>
<rect x="230.25" y="554.80" width="9.5" height="79.80" fill="#ef8cb9"/>
<line x1="164.4" y1="601.5" x2="164.4" y2="609.0999999999999" stroke="#cf1266" stroke-width="1.1"/>
<line x1="162.1" y1="601.5" x2="166.70000000000002" y2="601.5" stroke="#cf1266" stroke-width="1.1"/>
<line x1="162.1" y1="609.0999999999999" x2="166.70000000000002" y2="609.0999999999999" stroke="#cf1266" stroke-width="1.1"/>
<circle cx="164.40" cy="596.60" r="2.35" fill="#cf1266"/>
<circle cx="161.90" cy="607.30" r="2.35" fill="#cf1266"/>
<circle cx="166.90" cy="604.40" r="2.35" fill="#cf1266"/>
<line x1="178.35" y1="600.0" x2="178.35" y2="607.5999999999999" stroke="#cf1266" stroke-width="1.1"/>
<line x1="176.04999999999998" y1="600.0" x2="180.65" y2="600.0" stroke="#cf1266" stroke-width="1.1"/>
<line x1="176.04999999999998" y1="607.5999999999999" x2="180.65" y2="607.5999999999999" stroke="#cf1266" stroke-width="1.1"/>
<circle cx="178.35" cy="595.80" r="2.35" fill="#cf1266"/>
<circle cx="178.35" cy="605.30" r="2.35" fill="#cf1266"/>
<circle cx="178.35" cy="609.00" r="2.35" fill="#cf1266"/>
<line x1="192.55" y1="592.9" x2="192.55" y2="603.1" stroke="#cf1266" stroke-width="1.1"/>
<line x1="190.25" y1="592.9" x2="194.85000000000002" y2="592.9" stroke="#cf1266" stroke-width="1.1"/>
<line x1="190.25" y1="603.1" x2="194.85000000000002" y2="603.1" stroke="#cf1266" stroke-width="1.1"/>
<circle cx="192.55" cy="588.00" r="2.35" fill="#cf1266"/>
<circle cx="190.05" cy="600.40" r="2.35" fill="#cf1266"/>
<circle cx="195.05" cy="599.50" r="2.35" fill="#cf1266"/>
<line x1="206.5" y1="575.6" x2="206.5" y2="594.4" stroke="#cf1266" stroke-width="1.1"/>
<line x1="204.2" y1="575.6" x2="208.8" y2="575.6" stroke="#cf1266" stroke-width="1.1"/>
<line x1="204.2" y1="594.4" x2="208.8" y2="594.4" stroke="#cf1266" stroke-width="1.1"/>
<circle cx="206.50" cy="567.20" r="2.35" fill="#cf1266"/>
<circle cx="204.50" cy="594.60" r="2.35" fill="#cf1266"/>
<circle cx="208.50" cy="590.90" r="2.35" fill="#cf1266"/>
<line x1="220.8" y1="564" x2="220.8" y2="588.2" stroke="#cf1266" stroke-width="1.1"/>
<line x1="218.5" y1="564" x2="223.10000000000002" y2="564" stroke="#cf1266" stroke-width="1.1"/>
<line x1="218.5" y1="588.2" x2="223.10000000000002" y2="588.2" stroke="#cf1266" stroke-width="1.1"/>
<circle cx="220.80" cy="553.40" r="2.35" fill="#cf1266"/>
<circle cx="220.80" cy="581.30" r="2.35" fill="#cf1266"/>
<circle cx="220.80" cy="590.90" r="2.35" fill="#cf1266"/>
<line x1="235.0" y1="541.2" x2="235.0" y2="568.3999999999999" stroke="#cf1266" stroke-width="1.1"/>
<line x1="232.7" y1="541.2" x2="237.3" y2="541.2" stroke="#cf1266" stroke-width="1.1"/>
<line x1="232.7" y1="568.3999999999999" x2="237.3" y2="568.3999999999999" stroke="#cf1266" stroke-width="1.1"/>
<circle cx="235.00" cy="528.80" r="2.35" fill="#cf1266"/>
<circle cx="232.50" cy="568.60" r="2.35" fill="#cf1266"/>
<circle cx="237.50" cy="564.90" r="2.35" fill="#cf1266"/>
<line x1="70.3" y1="634.6" x2="70.3" y2="639.3000000000001" stroke="#111" stroke-width="1.1"/>
<text class="tl" x="74.80" y="648.30" font-size="9.9" text-anchor="end" transform="rotate(-45 74.80 648.30)">0</text>
<line x1="84.4" y1="634.6" x2="84.4" y2="639.3000000000001" stroke="#111" stroke-width="1.1"/>
<text class="tl" x="88.90" y="648.30" font-size="9.9" text-anchor="end" transform="rotate(-45 88.90 648.30)">1</text>
<line x1="98.4" y1="634.6" x2="98.4" y2="639.3000000000001" stroke="#111" stroke-width="1.1"/>
<text class="tl" x="102.90" y="648.30" font-size="9.9" text-anchor="end" transform="rotate(-45 102.90 648.30)">3</text>
<line x1="112.5" y1="634.6" x2="112.5" y2="639.3000000000001" stroke="#111" stroke-width="1.1"/>
<text class="tl" x="117.00" y="648.30" font-size="9.9" text-anchor="end" transform="rotate(-45 117.00 648.30)">10</text>
<line x1="126.6" y1="634.6" x2="126.6" y2="639.3000000000001" stroke="#111" stroke-width="1.1"/>
<text class="tl" x="131.10" y="648.30" font-size="9.9" text-anchor="end" transform="rotate(-45 131.10 648.30)">30</text>
<line x1="140.8" y1="634.6" x2="140.8" y2="639.3000000000001" stroke="#111" stroke-width="1.1"/>
<text class="tl" x="145.30" y="648.30" font-size="9.9" text-anchor="end" transform="rotate(-45 145.30 648.30)">300</text>
<line x1="164.4" y1="634.6" x2="164.4" y2="639.3000000000001" stroke="#111" stroke-width="1.1"/>
<text class="tl" x="168.90" y="648.30" font-size="9.9" text-anchor="end" transform="rotate(-45 168.90 648.30)">0</text>
<line x1="178.35" y1="634.6" x2="178.35" y2="639.3000000000001" stroke="#111" stroke-width="1.1"/>
<text class="tl" x="182.85" y="648.30" font-size="9.9" text-anchor="end" transform="rotate(-45 182.85 648.30)">1</text>
<line x1="192.55" y1="634.6" x2="192.55" y2="639.3000000000001" stroke="#111" stroke-width="1.1"/>
<text class="tl" x="197.05" y="648.30" font-size="9.9" text-anchor="end" transform="rotate(-45 197.05 648.30)">3</text>
<line x1="206.5" y1="634.6" x2="206.5" y2="639.3000000000001" stroke="#111" stroke-width="1.1"/>
<text class="tl" x="211.00" y="648.30" font-size="9.9" text-anchor="end" transform="rotate(-45 211.00 648.30)">10</text>
<line x1="220.8" y1="634.6" x2="220.8" y2="639.3000000000001" stroke="#111" stroke-width="1.1"/>
<text class="tl" x="225.30" y="648.30" font-size="9.9" text-anchor="end" transform="rotate(-45 225.30 648.30)">30</text>
<line x1="235.0" y1="634.6" x2="235.0" y2="639.3000000000001" stroke="#111" stroke-width="1.1"/>
<text class="tl" x="239.50" y="648.30" font-size="9.9" text-anchor="end" transform="rotate(-45 239.50 648.30)">300</text>
<text class="cd" x="0" y="0" font-size="11.6" text-anchor="middle" textLength="47.6" lengthAdjust="spacingAndGlyphs" transform="translate(22.00 575.20) rotate(-90)">BCL-2 (MFI)</text>
<text class="cd" x="151.90" y="676.60" font-size="12.5" text-anchor="middle" textLength="129.7" lengthAdjust="spacingAndGlyphs">Concentration NKTR-255 (ng/mL)</text>
<text x="102.70" y="721.40" font-size="12.5" textLength="99" lengthAdjust="spacing">CD4<tspan font-size="9.75" dx="0.6" dy="-4.3">+</tspan><tspan dy="4.3"> CAR-T cells</tspan></text>
<text x="29.30" y="741.70" font-size="9.3" text-anchor="start" font-weight="normal" >E:T ratio</text>
<text x="98.60" y="741.70" font-size="9.5" text-anchor="start" font-weight="normal" >5:1</text>
<text x="190.80" y="741.70" font-size="9.5" text-anchor="start" font-weight="normal" >10:1</text>
<line x1="60.8" y1="753.5" x2="60.8" y2="873.25" stroke="#000" stroke-width="1.6"/>
<line x1="60.05" y1="872.5" x2="243.8" y2="872.5" stroke="#000" stroke-width="1.6"/>
<line x1="56.199999999999996" y1="872.5" x2="60.8" y2="872.5" stroke="#111" stroke-width="1.2"/>
<text x="51.90" y="875.95" font-size="9.5" text-anchor="end" font-weight="normal" >0</text>
<line x1="56.199999999999996" y1="849.4" x2="60.8" y2="849.4" stroke="#111" stroke-width="1.2"/>
<text x="51.90" y="852.85" font-size="9.5" text-anchor="end" font-weight="normal" >1000</text>
<line x1="56.199999999999996" y1="826.3" x2="60.8" y2="826.3" stroke="#111" stroke-width="1.2"/>
<text x="51.90" y="829.75" font-size="9.5" text-anchor="end" font-weight="normal" >2000</text>
<line x1="56.199999999999996" y1="803.2" x2="60.8" y2="803.2" stroke="#111" stroke-width="1.2"/>
<text x="51.90" y="806.65" font-size="9.5" text-anchor="end" font-weight="normal" >3000</text>
<line x1="56.199999999999996" y1="780.1" x2="60.8" y2="780.1" stroke="#111" stroke-width="1.2"/>
<text x="51.90" y="783.55" font-size="9.5" text-anchor="end" font-weight="normal" >4000</text>
<line x1="56.199999999999996" y1="757.0" x2="60.8" y2="757.0" stroke="#111" stroke-width="1.2"/>
<text x="51.90" y="760.45" font-size="9.5" text-anchor="end" font-weight="normal" >5000</text>
<rect x="65.55" y="846.00" width="9.5" height="26.50" fill="#dc7464"/>
<rect x="79.65" y="844.90" width="9.5" height="27.60" fill="#dc7464"/>
<rect x="93.65" y="842.40" width="9.5" height="30.10" fill="#dc7464"/>
<rect x="107.75" y="839.30" width="9.5" height="33.20" fill="#dc7464"/>
<rect x="121.85" y="837.30" width="9.5" height="35.20" fill="#dc7464"/>
<rect x="136.05" y="826.80" width="9.5" height="45.70" fill="#dc7464"/>
<circle cx="70.30" cy="839.80" r="2.35" fill="#c20f31"/>
<circle cx="67.80" cy="845.40" r="2.35" fill="#c20f31"/>
<circle cx="72.60" cy="844.90" r="2.35" fill="#c20f31"/>
<circle cx="82.90" cy="844.00" r="2.35" fill="#c20f31"/>
<circle cx="84.90" cy="841.20" r="2.35" fill="#c20f31"/>
<circle cx="87.20" cy="842.40" r="2.35" fill="#c20f31"/>
<circle cx="96.20" cy="838.50" r="2.35" fill="#c20f31"/>
<circle cx="100.90" cy="841.20" r="2.35" fill="#c20f31"/>
<circle cx="96.20" cy="843.70" r="2.35" fill="#c20f31"/>
<circle cx="110.20" cy="837.60" r="2.35" fill="#c20f31"/>
<circle cx="112.70" cy="835.90" r="2.35" fill="#c20f31"/>
<circle cx="115.00" cy="837.00" r="2.35" fill="#c20f31"/>
<line x1="126.6" y1="830.2" x2="126.6" y2="837.5" stroke="#c20f31" stroke-width="1.1"/>
<line x1="124.3" y1="830.2" x2="128.9" y2="830.2" stroke="#c20f31" stroke-width="1.1"/>
<line x1="124.3" y1="837.5" x2="128.9" y2="837.5" stroke="#c20f31" stroke-width="1.1"/>
<circle cx="126.60" cy="826.30" r="2.35" fill="#c20f31"/>
<circle cx="124.10" cy="835.30" r="2.35" fill="#c20f31"/>
<circle cx="129.10" cy="835.30" r="2.35" fill="#c20f31"/>
<line x1="140.8" y1="818.6" x2="140.8" y2="828.0" stroke="#c20f31" stroke-width="1.1"/>
<line x1="138.5" y1="818.6" x2="143.10000000000002" y2="818.6" stroke="#c20f31" stroke-width="1.1"/>
<line x1="138.5" y1="828.0" x2="143.10000000000002" y2="828.0" stroke="#c20f31" stroke-width="1.1"/>
<circle cx="140.80" cy="815.30" r="2.35" fill="#c20f31"/>
<circle cx="138.40" cy="825.10" r="2.35" fill="#c20f31"/>
<circle cx="143.40" cy="824.10" r="2.35" fill="#c20f31"/>
<rect x="159.65" y="851.40" width="9.5" height="21.10" fill="#ef8cb9"/>
<rect x="173.60" y="850.60" width="9.5" height="21.90" fill="#ef8cb9"/>
<rect x="187.80" y="850.60" width="9.5" height="21.90" fill="#ef8cb9"/>
<rect x="201.75" y="850.60" width="9.5" height="21.90" fill="#ef8cb9"/>
<rect x="216.05" y="842.20" width="9.5" height="30.30" fill="#ef8cb9"/>
<rect x="230.25" y="824.60" width="9.5" height="47.90" fill="#ef8cb9"/>
<circle cx="164.40" cy="846.20" r="2.35" fill="#cf1266"/>
<circle cx="162.10" cy="854.00" r="2.35" fill="#cf1266"/>
<circle cx="166.60" cy="850.90" r="2.35" fill="#cf1266"/>
<circle cx="176.15" cy="846.20" r="2.35" fill="#cf1266"/>
<circle cx="176.15" cy="852.00" r="2.35" fill="#cf1266"/>
<circle cx="180.85" cy="850.60" r="2.35" fill="#cf1266"/>
<circle cx="192.55" cy="845.40" r="2.35" fill="#cf1266"/>
<circle cx="190.05" cy="851.40" r="2.35" fill="#cf1266"/>
<circle cx="195.05" cy="850.90" r="2.35" fill="#cf1266"/>
<line x1="206.5" y1="845.4" x2="206.5" y2="851.0" stroke="#cf1266" stroke-width="1.1"/>
<line x1="204.2" y1="845.4" x2="208.8" y2="845.4" stroke="#cf1266" stroke-width="1.1"/>
<line x1="204.2" y1="851.0" x2="208.8" y2="851.0" stroke="#cf1266" stroke-width="1.1"/>
<circle cx="206.50" cy="841.60" r="2.35" fill="#cf1266"/>
<circle cx="204.00" cy="851.40" r="2.35" fill="#cf1266"/>
<circle cx="209.00" cy="850.90" r="2.35" fill="#cf1266"/>
<line x1="220.8" y1="835.3" x2="220.8" y2="846.0" stroke="#cf1266" stroke-width="1.1"/>
<line x1="218.5" y1="835.3" x2="223.10000000000002" y2="835.3" stroke="#cf1266" stroke-width="1.1"/>
<line x1="218.5" y1="846.0" x2="223.10000000000002" y2="846.0" stroke="#cf1266" stroke-width="1.1"/>
<circle cx="220.80" cy="830.10" r="2.35" fill="#cf1266"/>
<circle cx="218.30" cy="849.20" r="2.35" fill="#cf1266"/>
<circle cx="223.10" cy="845.00" r="2.35" fill="#cf1266"/>
<line x1="235.0" y1="811.6" x2="235.0" y2="836.4" stroke="#cf1266" stroke-width="1.1"/>
<line x1="232.7" y1="811.6" x2="237.3" y2="811.6" stroke="#cf1266" stroke-width="1.1"/>
<line x1="232.7" y1="836.4" x2="237.3" y2="836.4" stroke="#cf1266" stroke-width="1.1"/>
<circle cx="235.00" cy="800.00" r="2.35" fill="#cf1266"/>
<circle cx="235.00" cy="831.20" r="2.35" fill="#cf1266"/>
<circle cx="235.00" cy="840.50" r="2.35" fill="#cf1266"/>
<line x1="70.3" y1="872.5" x2="70.3" y2="877.2" stroke="#111" stroke-width="1.1"/>
<text class="tl" x="74.30" y="885.40" font-size="9.9" text-anchor="end" transform="rotate(-45 74.30 885.40)">0</text>
<line x1="84.4" y1="872.5" x2="84.4" y2="877.2" stroke="#111" stroke-width="1.1"/>
<text class="tl" x="88.40" y="885.40" font-size="9.9" text-anchor="end" transform="rotate(-45 88.40 885.40)">1</text>
<line x1="98.4" y1="872.5" x2="98.4" y2="877.2" stroke="#111" stroke-width="1.1"/>
<text class="tl" x="102.40" y="885.40" font-size="9.9" text-anchor="end" transform="rotate(-45 102.40 885.40)">3</text>
<line x1="112.5" y1="872.5" x2="112.5" y2="877.2" stroke="#111" stroke-width="1.1"/>
<text class="tl" x="116.50" y="885.40" font-size="9.9" text-anchor="end" transform="rotate(-45 116.50 885.40)">10</text>
<line x1="126.6" y1="872.5" x2="126.6" y2="877.2" stroke="#111" stroke-width="1.1"/>
<text class="tl" x="130.60" y="885.40" font-size="9.9" text-anchor="end" transform="rotate(-45 130.60 885.40)">30</text>
<line x1="140.8" y1="872.5" x2="140.8" y2="877.2" stroke="#111" stroke-width="1.1"/>
<text class="tl" x="144.80" y="885.40" font-size="9.9" text-anchor="end" transform="rotate(-45 144.80 885.40)">300</text>
<line x1="164.4" y1="872.5" x2="164.4" y2="877.2" stroke="#111" stroke-width="1.1"/>
<text class="tl" x="168.40" y="885.40" font-size="9.9" text-anchor="end" transform="rotate(-45 168.40 885.40)">0</text>
<line x1="178.35" y1="872.5" x2="178.35" y2="877.2" stroke="#111" stroke-width="1.1"/>
<text class="tl" x="182.35" y="885.40" font-size="9.9" text-anchor="end" transform="rotate(-45 182.35 885.40)">1</text>
<line x1="192.55" y1="872.5" x2="192.55" y2="877.2" stroke="#111" stroke-width="1.1"/>
<text class="tl" x="196.55" y="885.40" font-size="9.9" text-anchor="end" transform="rotate(-45 196.55 885.40)">3</text>
<line x1="206.5" y1="872.5" x2="206.5" y2="877.2" stroke="#111" stroke-width="1.1"/>
<text class="tl" x="210.50" y="885.40" font-size="9.9" text-anchor="end" transform="rotate(-45 210.50 885.40)">10</text>
<line x1="220.8" y1="872.5" x2="220.8" y2="877.2" stroke="#111" stroke-width="1.1"/>
<text class="tl" x="224.80" y="885.40" font-size="9.9" text-anchor="end" transform="rotate(-45 224.80 885.40)">30</text>
<line x1="235.0" y1="872.5" x2="235.0" y2="877.2" stroke="#111" stroke-width="1.1"/>
<text class="tl" x="239.00" y="885.40" font-size="9.9" text-anchor="end" transform="rotate(-45 239.00 885.40)">300</text>
<text class="cd" x="0" y="0" font-size="11.6" text-anchor="middle" textLength="47.6" lengthAdjust="spacingAndGlyphs" transform="translate(22.00 813.00) rotate(-90)">BCL-2 (MFI)</text>
<text class="cd" x="151.70" y="913.50" font-size="12.5" text-anchor="middle" textLength="131.0" lengthAdjust="spacingAndGlyphs">Concentration NKTR-255 (ng/mL)</text>
<text x="266.9" y="480.8" font-size="17.5" font-weight="bold" style="fill:#000">D</text>
<text x="368.60" y="481.30" font-size="12.5" textLength="99" lengthAdjust="spacing">CD8<tspan font-size="9.75" dx="0.6" dy="-4.3">+</tspan><tspan dy="4.3"> CAR-T cells</tspan></text>
<text x="302.30" y="500.90" font-size="9.3" text-anchor="start" font-weight="normal" >E:T ratio</text>
<text x="359.40" y="500.90" font-size="9.5" text-anchor="start" font-weight="normal" >5:1</text>
<text x="454.00" y="500.90" font-size="9.5" text-anchor="start" font-weight="normal" >10:1</text>
<line x1="321.9" y1="511.8" x2="321.9" y2="635.35" stroke="#000" stroke-width="1.6"/>
<line x1="321.15" y1="634.6" x2="513.8" y2="634.6" stroke="#000" stroke-width="1.6"/>
<line x1="317.29999999999995" y1="634.6" x2="321.9" y2="634.6" stroke="#111" stroke-width="1.2"/>
<text x="313.00" y="638.05" font-size="9.5" text-anchor="end" font-weight="normal" >0</text>
<line x1="317.29999999999995" y1="610.98" x2="321.9" y2="610.98" stroke="#111" stroke-width="1.2"/>
<text x="313.00" y="614.43" font-size="9.5" text-anchor="end" font-weight="normal" >10</text>
<line x1="317.29999999999995" y1="587.36" x2="321.9" y2="587.36" stroke="#111" stroke-width="1.2"/>
<text x="313.00" y="590.81" font-size="9.5" text-anchor="end" font-weight="normal" >20</text>
<line x1="317.29999999999995" y1="563.74" x2="321.9" y2="563.74" stroke="#111" stroke-width="1.2"/>
<text x="313.00" y="567.19" font-size="9.5" text-anchor="end" font-weight="normal" >30</text>
<line x1="317.29999999999995" y1="540.12" x2="321.9" y2="540.12" stroke="#111" stroke-width="1.2"/>
<text x="313.00" y="543.57" font-size="9.5" text-anchor="end" font-weight="normal" >40</text>
<line x1="317.29999999999995" y1="516.5" x2="321.9" y2="516.5" stroke="#111" stroke-width="1.2"/>
<text x="313.00" y="519.95" font-size="9.5" text-anchor="end" font-weight="normal" >50</text>
<rect x="327.60" y="634.00" width="9.8" height="0.60" fill="#dc7464"/>
<rect x="342.20" y="633.50" width="9.8" height="1.10" fill="#dc7464"/>
<rect x="356.70" y="630.00" width="9.8" height="4.60" fill="#dc7464"/>
<rect x="371.40" y="620.00" width="9.8" height="14.60" fill="#dc7464"/>
<rect x="386.10" y="596.20" width="9.8" height="38.40" fill="#dc7464"/>
<rect x="400.80" y="555.30" width="9.8" height="79.30" fill="#dc7464"/>
<line x1="332.5" y1="632.5" x2="332.5" y2="635.5" stroke="#c20f31" stroke-width="1.1"/>
<circle cx="330.00" cy="634.20" r="2.35" fill="#c20f31"/>
<circle cx="334.70" cy="629.50" r="2.35" fill="#c20f31"/>
<circle cx="332.50" cy="632.50" r="2.35" fill="#c20f31"/>
<circle cx="335.00" cy="634.00" r="2.35" fill="#c20f31"/>
<line x1="347.1" y1="631.5" x2="347.1" y2="635.5" stroke="#c20f31" stroke-width="1.1"/>
<circle cx="344.60" cy="634.50" r="2.35" fill="#c20f31"/>
<circle cx="349.30" cy="628.00" r="2.35" fill="#c20f31"/>
<circle cx="347.10" cy="632.00" r="2.35" fill="#c20f31"/>
<circle cx="350.10" cy="634.00" r="2.35" fill="#c20f31"/>
<line x1="361.6" y1="626" x2="361.6" y2="634" stroke="#c20f31" stroke-width="1.1"/>
<line x1="359.3" y1="626" x2="363.90000000000003" y2="626" stroke="#c20f31" stroke-width="1.1"/>
<line x1="359.3" y1="634" x2="363.90000000000003" y2="634" stroke="#c20f31" stroke-width="1.1"/>
<circle cx="361.60" cy="621.20" r="2.35" fill="#c20f31"/>
<circle cx="361.60" cy="628.00" r="2.35" fill="#c20f31"/>
<circle cx="359.10" cy="633.70" r="2.35" fill="#c20f31"/>
<circle cx="364.10" cy="633.70" r="2.35" fill="#c20f31"/>
<line x1="376.3" y1="611.8" x2="376.3" y2="628.2" stroke="#c20f31" stroke-width="1.1"/>
<line x1="374.0" y1="611.8" x2="378.6" y2="611.8" stroke="#c20f31" stroke-width="1.1"/>
<line x1="374.0" y1="628.2" x2="378.6" y2="628.2" stroke="#c20f31" stroke-width="1.1"/>
<circle cx="376.30" cy="600.50" r="2.35" fill="#c20f31"/>
<circle cx="376.30" cy="615.00" r="2.35" fill="#c20f31"/>
<circle cx="378.80" cy="628.00" r="2.35" fill="#c20f31"/>
<circle cx="373.80" cy="633.00" r="2.35" fill="#c20f31"/>
<line x1="391.0" y1="580" x2="391.0" y2="612.4000000000001" stroke="#c20f31" stroke-width="1.1"/>
<line x1="388.7" y1="580" x2="393.3" y2="580" stroke="#c20f31" stroke-width="1.1"/>
<line x1="388.7" y1="612.4000000000001" x2="393.3" y2="612.4000000000001" stroke="#c20f31" stroke-width="1.1"/>
<circle cx="391.00" cy="558.75" r="2.35" fill="#c20f31"/>
<circle cx="391.00" cy="583.00" r="2.35" fill="#c20f31"/>
<circle cx="391.00" cy="613.25" r="2.35" fill="#c20f31"/>
<circle cx="391.00" cy="626.25" r="2.35" fill="#c20f31"/>
<line x1="405.7" y1="542" x2="405.7" y2="568.5999999999999" stroke="#c20f31" stroke-width="1.1"/>
<line x1="403.4" y1="542" x2="408.0" y2="542" stroke="#c20f31" stroke-width="1.1"/>
<line x1="403.4" y1="568.5999999999999" x2="408.0" y2="568.5999999999999" stroke="#c20f31" stroke-width="1.1"/>
<circle cx="405.70" cy="529.20" r="2.35" fill="#c20f31"/>
<circle cx="405.70" cy="546.50" r="2.35" fill="#c20f31"/>
<circle cx="405.70" cy="552.30" r="2.35" fill="#c20f31"/>
<circle cx="405.70" cy="590.00" r="2.35" fill="#c20f31"/>
<rect x="425.90" y="634.00" width="9.8" height="0.60" fill="#ef8cb9"/>
<rect x="440.70" y="633.00" width="9.8" height="1.60" fill="#ef8cb9"/>
<rect x="455.30" y="632.00" width="9.8" height="2.60" fill="#ef8cb9"/>
<rect x="470.10" y="623.90" width="9.8" height="10.70" fill="#ef8cb9"/>
<rect x="484.80" y="606.00" width="9.8" height="28.60" fill="#ef8cb9"/>
<rect x="499.50" y="568.50" width="9.8" height="66.10" fill="#ef8cb9"/>
<line x1="430.8" y1="633" x2="430.8" y2="635.0" stroke="#cf1266" stroke-width="1.1"/>
<circle cx="430.80" cy="630.80" r="2.35" fill="#cf1266"/>
<circle cx="428.30" cy="633.50" r="2.35" fill="#cf1266"/>
<circle cx="433.30" cy="632.50" r="2.35" fill="#cf1266"/>
<circle cx="430.80" cy="634.50" r="2.35" fill="#cf1266"/>
<line x1="445.6" y1="632" x2="445.6" y2="634.0" stroke="#cf1266" stroke-width="1.1"/>
<circle cx="447.60" cy="629.60" r="2.35" fill="#cf1266"/>
<circle cx="443.60" cy="633.50" r="2.35" fill="#cf1266"/>
<circle cx="445.60" cy="631.50" r="2.35" fill="#cf1266"/>
<circle cx="448.10" cy="632.00" r="2.35" fill="#cf1266"/>
<line x1="460.2" y1="629.5" x2="460.2" y2="634.5" stroke="#cf1266" stroke-width="1.1"/>
<circle cx="457.70" cy="628.00" r="2.35" fill="#cf1266"/>
<circle cx="462.70" cy="625.00" r="2.35" fill="#cf1266"/>
<circle cx="457.70" cy="634.00" r="2.35" fill="#cf1266"/>
<circle cx="462.70" cy="634.00" r="2.35" fill="#cf1266"/>
<line x1="475.0" y1="618.5" x2="475.0" y2="629.3" stroke="#cf1266" stroke-width="1.1"/>
<line x1="472.7" y1="618.5" x2="477.3" y2="618.5" stroke="#cf1266" stroke-width="1.1"/>
<line x1="472.7" y1="629.3" x2="477.3" y2="629.3" stroke="#cf1266" stroke-width="1.1"/>
<circle cx="472.50" cy="615.80" r="2.35" fill="#cf1266"/>
<circle cx="477.50" cy="612.80" r="2.35" fill="#cf1266"/>
<circle cx="477.50" cy="630.80" r="2.35" fill="#cf1266"/>
<circle cx="472.50" cy="632.00" r="2.35" fill="#cf1266"/>
<line x1="489.7" y1="594.3" x2="489.7" y2="617.7" stroke="#cf1266" stroke-width="1.1"/>
<line x1="487.4" y1="594.3" x2="492.0" y2="594.3" stroke="#cf1266" stroke-width="1.1"/>
<line x1="487.4" y1="617.7" x2="492.0" y2="617.7" stroke="#cf1266" stroke-width="1.1"/>
<circle cx="489.70" cy="583.00" r="2.35" fill="#cf1266"/>
<circle cx="489.70" cy="590.40" r="2.35" fill="#cf1266"/>
<circle cx="489.70" cy="620.40" r="2.35" fill="#cf1266"/>
<circle cx="489.70" cy="626.60" r="2.35" fill="#cf1266"/>
<line x1="504.4" y1="555.8" x2="504.4" y2="581.2" stroke="#cf1266" stroke-width="1.1"/>
<line x1="502.09999999999997" y1="555.8" x2="506.7" y2="555.8" stroke="#cf1266" stroke-width="1.1"/>
<line x1="502.09999999999997" y1="581.2" x2="506.7" y2="581.2" stroke="#cf1266" stroke-width="1.1"/>
<circle cx="501.90" cy="551.80" r="2.35" fill="#cf1266"/>
<circle cx="506.90" cy="548.20" r="2.35" fill="#cf1266"/>
<circle cx="504.40" cy="570.80" r="2.35" fill="#cf1266"/>
<circle cx="504.40" cy="599.60" r="2.35" fill="#cf1266"/>
<line x1="332.5" y1="634.6" x2="332.5" y2="639.3000000000001" stroke="#111" stroke-width="1.1"/>
<text class="tl" x="337.00" y="647.90" font-size="9.9" text-anchor="end" transform="rotate(-45 337.00 647.90)">0</text>
<line x1="347.1" y1="634.6" x2="347.1" y2="639.3000000000001" stroke="#111" stroke-width="1.1"/>
<text class="tl" x="351.60" y="647.90" font-size="9.9" text-anchor="end" transform="rotate(-45 351.60 647.90)">1</text>
<line x1="361.6" y1="634.6" x2="361.6" y2="639.3000000000001" stroke="#111" stroke-width="1.1"/>
<text class="tl" x="366.10" y="647.90" font-size="9.9" text-anchor="end" transform="rotate(-45 366.10 647.90)">3</text>
<line x1="376.3" y1="634.6" x2="376.3" y2="639.3000000000001" stroke="#111" stroke-width="1.1"/>
<text class="tl" x="380.80" y="647.90" font-size="9.9" text-anchor="end" transform="rotate(-45 380.80 647.90)">10</text>
<line x1="391.0" y1="634.6" x2="391.0" y2="639.3000000000001" stroke="#111" stroke-width="1.1"/>
<text class="tl" x="395.50" y="647.90" font-size="9.9" text-anchor="end" transform="rotate(-45 395.50 647.90)">30</text>
<line x1="405.7" y1="634.6" x2="405.7" y2="639.3000000000001" stroke="#111" stroke-width="1.1"/>
<text class="tl" x="410.20" y="647.90" font-size="9.9" text-anchor="end" transform="rotate(-45 410.20 647.90)">300</text>
<line x1="430.8" y1="634.6" x2="430.8" y2="639.3000000000001" stroke="#111" stroke-width="1.1"/>
<text class="tl" x="435.30" y="647.90" font-size="9.9" text-anchor="end" transform="rotate(-45 435.30 647.90)">0</text>
<line x1="445.6" y1="634.6" x2="445.6" y2="639.3000000000001" stroke="#111" stroke-width="1.1"/>
<text class="tl" x="450.10" y="647.90" font-size="9.9" text-anchor="end" transform="rotate(-45 450.10 647.90)">1</text>
<line x1="460.2" y1="634.6" x2="460.2" y2="639.3000000000001" stroke="#111" stroke-width="1.1"/>
<text class="tl" x="464.70" y="647.90" font-size="9.9" text-anchor="end" transform="rotate(-45 464.70 647.90)">3</text>
<line x1="475.0" y1="634.6" x2="475.0" y2="639.3000000000001" stroke="#111" stroke-width="1.1"/>
<text class="tl" x="479.50" y="647.90" font-size="9.9" text-anchor="end" transform="rotate(-45 479.50 647.90)">10</text>
<line x1="489.7" y1="634.6" x2="489.7" y2="639.3000000000001" stroke="#111" stroke-width="1.1"/>
<text class="tl" x="494.20" y="647.90" font-size="9.9" text-anchor="end" transform="rotate(-45 494.20 647.90)">30</text>
<line x1="504.4" y1="634.6" x2="504.4" y2="639.3000000000001" stroke="#111" stroke-width="1.1"/>
<text class="tl" x="508.90" y="647.90" font-size="9.9" text-anchor="end" transform="rotate(-45 508.90 647.90)">300</text>
<text class="cd" x="0" y="0" font-size="11.6" text-anchor="middle" textLength="57.3" lengthAdjust="spacingAndGlyphs" transform="translate(294.70 573.30) rotate(-90)">Fold expansion</text>
<text class="cd" x="417.60" y="675.50" font-size="12.5" text-anchor="middle" textLength="130.5" lengthAdjust="spacingAndGlyphs">Concentration NKTR-255 (ng/mL)</text>
<text x="369.40" y="718.20" font-size="12.5" textLength="99" lengthAdjust="spacing">CD4<tspan font-size="9.75" dx="0.6" dy="-4.3">+</tspan><tspan dy="4.3"> CAR-T cells</tspan></text>
<text x="302.30" y="737.90" font-size="9.3" text-anchor="start" font-weight="normal" >E:T ratio</text>
<text x="359.80" y="737.90" font-size="9.5" text-anchor="start" font-weight="normal" >5:1</text>
<text x="454.00" y="737.90" font-size="9.5" text-anchor="start" font-weight="normal" >10:1</text>
<line x1="321.9" y1="749.5" x2="321.9" y2="873.25" stroke="#000" stroke-width="1.6"/>
<line x1="321.15" y1="872.5" x2="514.2" y2="872.5" stroke="#000" stroke-width="1.6"/>
<line x1="317.29999999999995" y1="872.5" x2="321.9" y2="872.5" stroke="#111" stroke-width="1.2"/>
<text x="313.00" y="875.95" font-size="9.5" text-anchor="end" font-weight="normal" >0</text>
<line x1="317.29999999999995" y1="848.75" x2="321.9" y2="848.75" stroke="#111" stroke-width="1.2"/>
<text x="313.00" y="852.20" font-size="9.5" text-anchor="end" font-weight="normal" >10</text>
<line x1="317.29999999999995" y1="825.0" x2="321.9" y2="825.0" stroke="#111" stroke-width="1.2"/>
<text x="313.00" y="828.45" font-size="9.5" text-anchor="end" font-weight="normal" >20</text>
<line x1="317.29999999999995" y1="801.25" x2="321.9" y2="801.25" stroke="#111" stroke-width="1.2"/>
<text x="313.00" y="804.70" font-size="9.5" text-anchor="end" font-weight="normal" >30</text>
<line x1="317.29999999999995" y1="777.5" x2="321.9" y2="777.5" stroke="#111" stroke-width="1.2"/>
<text x="313.00" y="780.95" font-size="9.5" text-anchor="end" font-weight="normal" >40</text>
<line x1="317.29999999999995" y1="753.75" x2="321.9" y2="753.75" stroke="#111" stroke-width="1.2"/>
<text x="313.00" y="757.20" font-size="9.5" text-anchor="end" font-weight="normal" >50</text>
<rect x="327.60" y="820.80" width="9.8" height="51.70" fill="#dc7464"/>
<rect x="342.20" y="816.75" width="9.8" height="55.75" fill="#dc7464"/>
<rect x="356.70" y="814.90" width="9.8" height="57.60" fill="#dc7464"/>
<rect x="371.40" y="811.30" width="9.8" height="61.20" fill="#dc7464"/>
<rect x="386.10" y="810.00" width="9.8" height="62.50" fill="#dc7464"/>
<rect x="400.80" y="817.50" width="9.8" height="55.00" fill="#dc7464"/>
<line x1="332.5" y1="813.6" x2="332.5" y2="826.0" stroke="#c20f31" stroke-width="1.1"/>
<line x1="330.2" y1="813.6" x2="334.8" y2="813.6" stroke="#c20f31" stroke-width="1.1"/>
<line x1="330.2" y1="826.0" x2="334.8" y2="826.0" stroke="#c20f31" stroke-width="1.1"/>
<circle cx="332.50" cy="804.50" r="2.35" fill="#c20f31"/>
<circle cx="332.50" cy="818.50" r="2.35" fill="#c20f31"/>
<circle cx="332.50" cy="823.80" r="2.35" fill="#c20f31"/>
<circle cx="332.50" cy="832.40" r="2.35" fill="#c20f31"/>
<line x1="347.1" y1="811.75" x2="347.1" y2="821.75" stroke="#c20f31" stroke-width="1.1"/>
<line x1="344.8" y1="811.75" x2="349.40000000000003" y2="811.75" stroke="#c20f31" stroke-width="1.1"/>
<line x1="344.8" y1="821.75" x2="349.40000000000003" y2="821.75" stroke="#c20f31" stroke-width="1.1"/>
<circle cx="347.10" cy="805.00" r="2.35" fill="#c20f31"/>
<circle cx="347.10" cy="815.50" r="2.35" fill="#c20f31"/>
<circle cx="344.60" cy="821.25" r="2.35" fill="#c20f31"/>
<circle cx="349.60" cy="820.50" r="2.35" fill="#c20f31"/>
<line x1="361.6" y1="809.0" x2="361.6" y2="820.8" stroke="#c20f31" stroke-width="1.1"/>
<line x1="359.3" y1="809.0" x2="363.90000000000003" y2="809.0" stroke="#c20f31" stroke-width="1.1"/>
<line x1="359.3" y1="820.8" x2="363.90000000000003" y2="820.8" stroke="#c20f31" stroke-width="1.1"/>
<circle cx="361.60" cy="800.20" r="2.35" fill="#c20f31"/>
<circle cx="359.40" cy="814.90" r="2.35" fill="#c20f31"/>
<circle cx="364.10" cy="818.10" r="2.35" fill="#c20f31"/>
<circle cx="359.40" cy="822.90" r="2.35" fill="#c20f31"/>
<line x1="376.3" y1="802.9" x2="376.3" y2="819.6999999999999" stroke="#c20f31" stroke-width="1.1"/>
<line x1="374.0" y1="802.9" x2="378.6" y2="802.9" stroke="#c20f31" stroke-width="1.1"/>
<line x1="374.0" y1="819.6999999999999" x2="378.6" y2="819.6999999999999" stroke="#c20f31" stroke-width="1.1"/>
<circle cx="376.30" cy="790.20" r="2.35" fill="#c20f31"/>
<circle cx="373.80" cy="814.00" r="2.35" fill="#c20f31"/>
<circle cx="378.90" cy="815.80" r="2.35" fill="#c20f31"/>
<circle cx="373.80" cy="820.20" r="2.35" fill="#c20f31"/>
<line x1="391.0" y1="804.5" x2="391.0" y2="815.5" stroke="#c20f31" stroke-width="1.1"/>
<line x1="388.7" y1="804.5" x2="393.3" y2="804.5" stroke="#c20f31" stroke-width="1.1"/>
<line x1="388.7" y1="815.5" x2="393.3" y2="815.5" stroke="#c20f31" stroke-width="1.1"/>
<circle cx="391.00" cy="796.25" r="2.35" fill="#c20f31"/>
<circle cx="391.00" cy="802.00" r="2.35" fill="#c20f31"/>
<circle cx="388.50" cy="819.50" r="2.35" fill="#c20f31"/>
<circle cx="393.50" cy="819.50" r="2.35" fill="#c20f31"/>
<line x1="405.7" y1="816" x2="405.7" y2="819.0" stroke="#c20f31" stroke-width="1.1"/>
<circle cx="405.70" cy="814.25" r="2.35" fill="#c20f31"/>
<circle cx="403.20" cy="818.00" r="2.35" fill="#c20f31"/>
<circle cx="408.20" cy="817.50" r="2.35" fill="#c20f31"/>
<rect x="425.90" y="843.50" width="9.8" height="29.00" fill="#ef8cb9"/>
<rect x="440.70" y="837.30" width="9.8" height="35.20" fill="#ef8cb9"/>
<rect x="455.30" y="833.80" width="9.8" height="38.70" fill="#ef8cb9"/>
<rect x="470.10" y="823.90" width="9.8" height="48.60" fill="#ef8cb9"/>
<rect x="484.80" y="804.30" width="9.8" height="68.20" fill="#ef8cb9"/>
<rect x="499.50" y="804.30" width="9.8" height="68.20" fill="#ef8cb9"/>
<line x1="430.8" y1="835" x2="430.8" y2="852.0" stroke="#cf1266" stroke-width="1.1"/>
<line x1="428.5" y1="835" x2="433.1" y2="835" stroke="#cf1266" stroke-width="1.1"/>
<line x1="428.5" y1="852.0" x2="433.1" y2="852.0" stroke="#cf1266" stroke-width="1.1"/>
<circle cx="430.80" cy="820.00" r="2.35" fill="#cf1266"/>
<circle cx="428.30" cy="846.10" r="2.35" fill="#cf1266"/>
<circle cx="433.30" cy="850.50" r="2.35" fill="#cf1266"/>
<circle cx="428.30" cy="854.20" r="2.35" fill="#cf1266"/>
<line x1="445.6" y1="825.3" x2="445.6" y2="849.3" stroke="#cf1266" stroke-width="1.1"/>
<line x1="443.3" y1="825.3" x2="447.90000000000003" y2="825.3" stroke="#cf1266" stroke-width="1.1"/>
<line x1="443.3" y1="849.3" x2="447.90000000000003" y2="849.3" stroke="#cf1266" stroke-width="1.1"/>
<circle cx="445.60" cy="803.80" r="2.35" fill="#cf1266"/>
<circle cx="445.60" cy="843.10" r="2.35" fill="#cf1266"/>
<circle cx="443.10" cy="850.50" r="2.35" fill="#cf1266"/>
<circle cx="448.10" cy="848.20" r="2.35" fill="#cf1266"/>
<line x1="460.2" y1="820.7" x2="460.2" y2="846.8999999999999" stroke="#cf1266" stroke-width="1.1"/>
<line x1="457.9" y1="820.7" x2="462.5" y2="820.7" stroke="#cf1266" stroke-width="1.1"/>
<line x1="457.9" y1="846.8999999999999" x2="462.5" y2="846.8999999999999" stroke="#cf1266" stroke-width="1.1"/>
<circle cx="460.20" cy="796.20" r="2.35" fill="#cf1266"/>
<circle cx="460.20" cy="843.10" r="2.35" fill="#cf1266"/>
<circle cx="457.70" cy="847.00" r="2.35" fill="#cf1266"/>
<circle cx="462.70" cy="846.10" r="2.35" fill="#cf1266"/>
<line x1="475.0" y1="811.5" x2="475.0" y2="836.3" stroke="#cf1266" stroke-width="1.1"/>
<line x1="472.7" y1="811.5" x2="477.3" y2="811.5" stroke="#cf1266" stroke-width="1.1"/>
<line x1="472.7" y1="836.3" x2="477.3" y2="836.3" stroke="#cf1266" stroke-width="1.1"/>
<circle cx="475.00" cy="788.40" r="2.35" fill="#cf1266"/>
<circle cx="475.00" cy="829.90" r="2.35" fill="#cf1266"/>
<circle cx="472.50" cy="838.00" r="2.35" fill="#cf1266"/>
<circle cx="477.50" cy="835.70" r="2.35" fill="#cf1266"/>
<line x1="489.7" y1="792.3" x2="489.7" y2="816.3" stroke="#cf1266" stroke-width="1.1"/>
<line x1="487.4" y1="792.3" x2="492.0" y2="792.3" stroke="#cf1266" stroke-width="1.1"/>
<line x1="487.4" y1="816.3" x2="492.0" y2="816.3" stroke="#cf1266" stroke-width="1.1"/>
<circle cx="489.70" cy="775.70" r="2.35" fill="#cf1266"/>
<circle cx="489.70" cy="799.70" r="2.35" fill="#cf1266"/>
<circle cx="489.70" cy="810.30" r="2.35" fill="#cf1266"/>
<circle cx="489.70" cy="828.50" r="2.35" fill="#cf1266"/>
<line x1="504.4" y1="799.2" x2="504.4" y2="809.3999999999999" stroke="#cf1266" stroke-width="1.1"/>
<line x1="502.09999999999997" y1="799.2" x2="506.7" y2="799.2" stroke="#cf1266" stroke-width="1.1"/>
<line x1="502.09999999999997" y1="809.3999999999999" x2="506.7" y2="809.3999999999999" stroke="#cf1266" stroke-width="1.1"/>
<circle cx="501.90" cy="797.00" r="2.35" fill="#cf1266"/>
<circle cx="506.90" cy="798.80" r="2.35" fill="#cf1266"/>
<circle cx="504.40" cy="801.50" r="2.35" fill="#cf1266"/>
<circle cx="504.40" cy="817.20" r="2.35" fill="#cf1266"/>
<line x1="332.5" y1="872.5" x2="332.5" y2="877.2" stroke="#111" stroke-width="1.1"/>
<text class="tl" x="336.60" y="885.50" font-size="9.9" text-anchor="end" transform="rotate(-45 336.60 885.50)">0</text>
<line x1="347.1" y1="872.5" x2="347.1" y2="877.2" stroke="#111" stroke-width="1.1"/>
<text class="tl" x="351.20" y="885.50" font-size="9.9" text-anchor="end" transform="rotate(-45 351.20 885.50)">1</text>
<line x1="361.6" y1="872.5" x2="361.6" y2="877.2" stroke="#111" stroke-width="1.1"/>
<text class="tl" x="365.70" y="885.50" font-size="9.9" text-anchor="end" transform="rotate(-45 365.70 885.50)">3</text>
<line x1="376.3" y1="872.5" x2="376.3" y2="877.2" stroke="#111" stroke-width="1.1"/>
<text class="tl" x="380.40" y="885.50" font-size="9.9" text-anchor="end" transform="rotate(-45 380.40 885.50)">10</text>
<line x1="391.0" y1="872.5" x2="391.0" y2="877.2" stroke="#111" stroke-width="1.1"/>
<text class="tl" x="395.10" y="885.50" font-size="9.9" text-anchor="end" transform="rotate(-45 395.10 885.50)">30</text>
<line x1="405.7" y1="872.5" x2="405.7" y2="877.2" stroke="#111" stroke-width="1.1"/>
<text class="tl" x="409.80" y="885.50" font-size="9.9" text-anchor="end" transform="rotate(-45 409.80 885.50)">300</text>
<line x1="430.8" y1="872.5" x2="430.8" y2="877.2" stroke="#111" stroke-width="1.1"/>
<text class="tl" x="434.90" y="885.50" font-size="9.9" text-anchor="end" transform="rotate(-45 434.90 885.50)">0</text>
<line x1="445.6" y1="872.5" x2="445.6" y2="877.2" stroke="#111" stroke-width="1.1"/>
<text class="tl" x="449.70" y="885.50" font-size="9.9" text-anchor="end" transform="rotate(-45 449.70 885.50)">1</text>
<line x1="460.2" y1="872.5" x2="460.2" y2="877.2" stroke="#111" stroke-width="1.1"/>
<text class="tl" x="464.30" y="885.50" font-size="9.9" text-anchor="end" transform="rotate(-45 464.30 885.50)">3</text>
<line x1="475.0" y1="872.5" x2="475.0" y2="877.2" stroke="#111" stroke-width="1.1"/>
<text class="tl" x="479.10" y="885.50" font-size="9.9" text-anchor="end" transform="rotate(-45 479.10 885.50)">10</text>
<line x1="489.7" y1="872.5" x2="489.7" y2="877.2" stroke="#111" stroke-width="1.1"/>
<text class="tl" x="493.80" y="885.50" font-size="9.9" text-anchor="end" transform="rotate(-45 493.80 885.50)">30</text>
<line x1="504.4" y1="872.5" x2="504.4" y2="877.2" stroke="#111" stroke-width="1.1"/>
<text class="tl" x="508.50" y="885.50" font-size="9.9" text-anchor="end" transform="rotate(-45 508.50 885.50)">300</text>
<text class="cd" x="0" y="0" font-size="11.6" text-anchor="middle" textLength="57.3" lengthAdjust="spacingAndGlyphs" transform="translate(294.70 811.00) rotate(-90)">Fold expansion</text>
<text class="cd" x="415.10" y="913.30" font-size="12.5" text-anchor="middle" textLength="131.0" lengthAdjust="spacingAndGlyphs">Concentration NKTR-255 (ng/mL)</text>
</svg></body></html>
